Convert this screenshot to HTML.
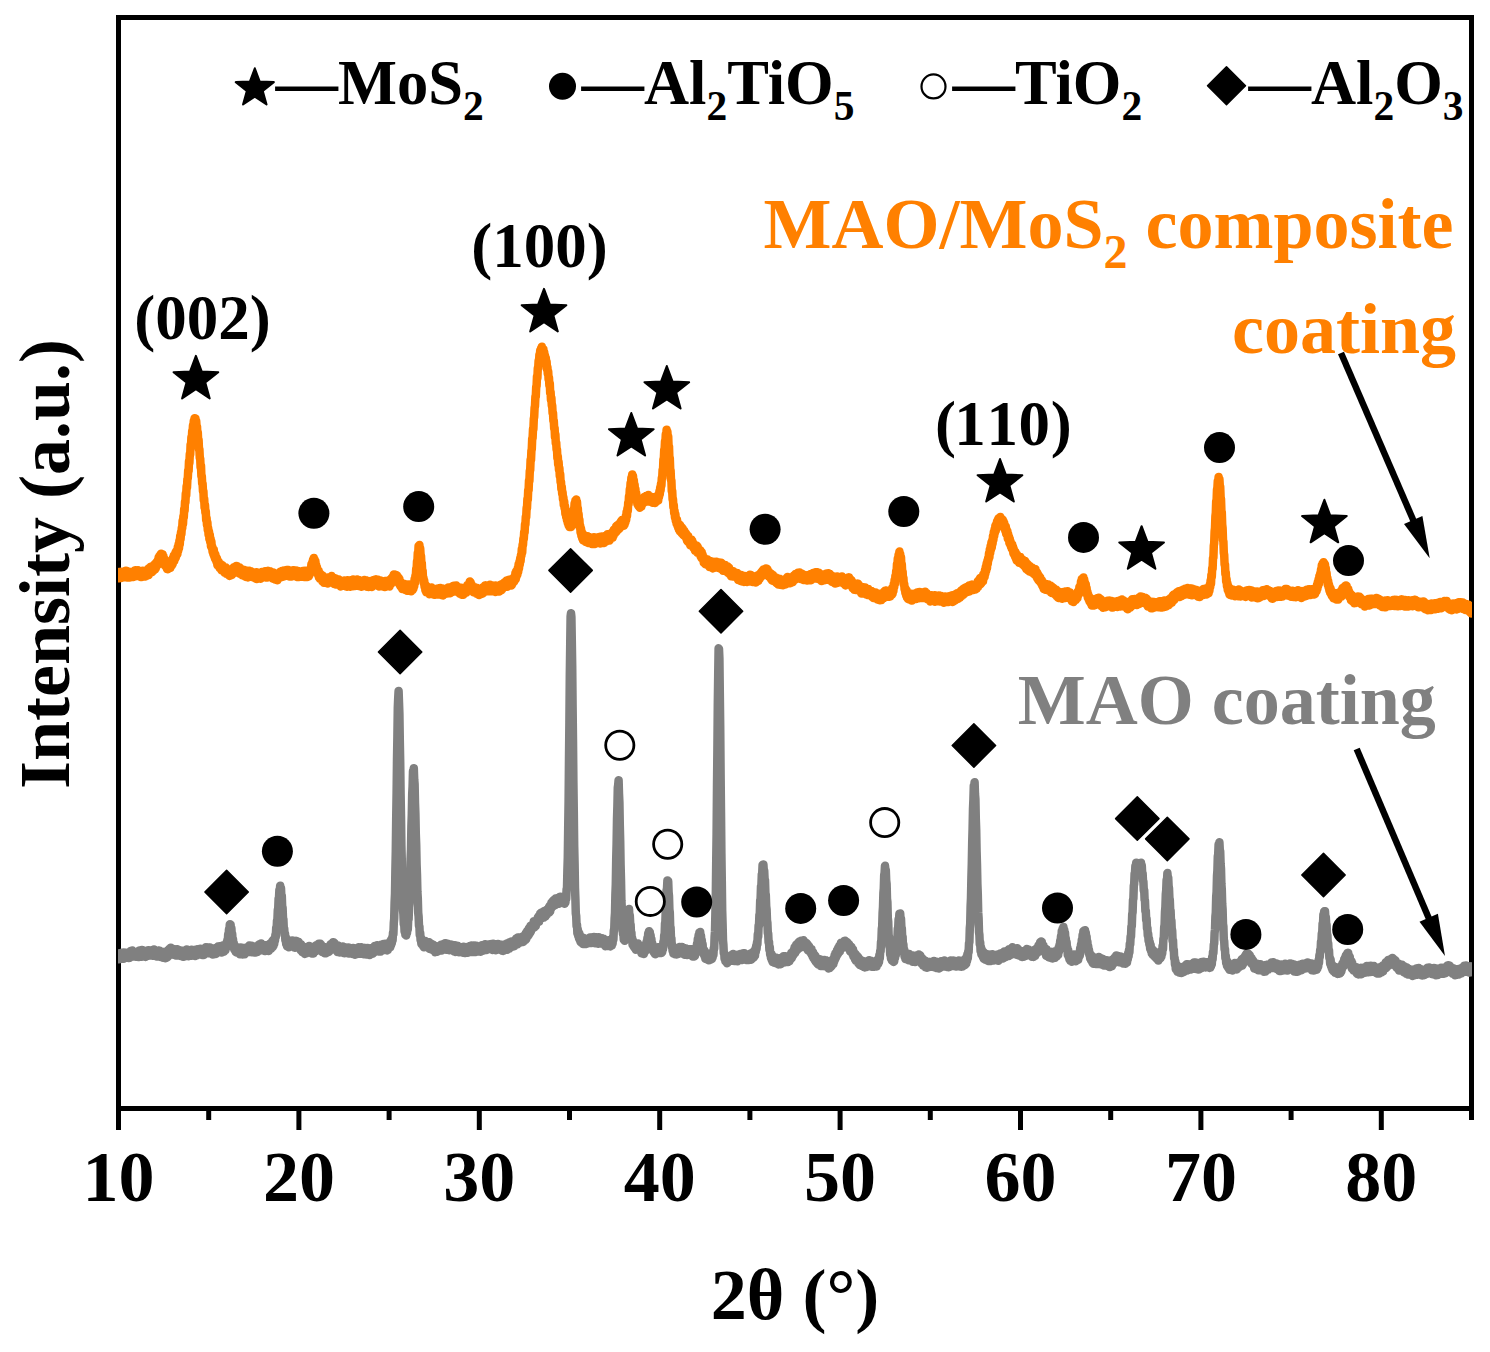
<!DOCTYPE html>
<html><head><meta charset="utf-8"><style>
html,body{margin:0;padding:0;background:#fff;}
svg{display:block;}
text{font-family:"Liberation Serif",serif;font-weight:bold;}
</style></head><body>
<svg width="1490" height="1352" viewBox="0 0 1490 1352">
<defs><clipPath id="pc"><rect x="118" y="0" width="1354" height="1352"/></clipPath></defs>
<rect width="1490" height="1352" fill="#fff"/>


<rect x="118.5" y="17.5" width="1353" height="1091" fill="none" stroke="#000" stroke-width="5"/>
<g stroke="#000" stroke-width="5"><line x1="118.50" y1="1108.5" x2="118.50" y2="1130.0"/><line x1="208.70" y1="1108.5" x2="208.70" y2="1120.0"/><line x1="298.90" y1="1108.5" x2="298.90" y2="1130.0"/><line x1="389.10" y1="1108.5" x2="389.10" y2="1120.0"/><line x1="479.30" y1="1108.5" x2="479.30" y2="1130.0"/><line x1="569.50" y1="1108.5" x2="569.50" y2="1120.0"/><line x1="659.70" y1="1108.5" x2="659.70" y2="1130.0"/><line x1="749.90" y1="1108.5" x2="749.90" y2="1120.0"/><line x1="840.10" y1="1108.5" x2="840.10" y2="1130.0"/><line x1="930.30" y1="1108.5" x2="930.30" y2="1120.0"/><line x1="1020.50" y1="1108.5" x2="1020.50" y2="1130.0"/><line x1="1110.70" y1="1108.5" x2="1110.70" y2="1120.0"/><line x1="1200.90" y1="1108.5" x2="1200.90" y2="1130.0"/><line x1="1291.10" y1="1108.5" x2="1291.10" y2="1120.0"/><line x1="1381.30" y1="1108.5" x2="1381.30" y2="1130.0"/><line x1="1471.50" y1="1108.5" x2="1471.50" y2="1120.0"/></g>
<g clip-path="url(#pc)"><path d="M118.2 578.1L118.6 572.1L119.0 578.3L119.4 573.4L119.8 577.4L120.2 572.1L120.6 576.7L121.0 572.0L121.4 578.0L121.8 572.4L122.2 576.7L122.6 572.4L123.0 576.3L123.4 571.7L123.8 576.5L124.2 571.4L124.6 577.3L125.0 571.0L125.4 576.8L125.8 570.8L126.2 576.3L126.6 572.7L127.0 577.4L127.4 573.2L127.8 576.5L128.2 572.5L128.6 577.4L129.0 571.7L129.4 577.6L129.8 572.3L130.2 577.1L130.6 572.6L131.0 576.0L131.4 572.4L131.8 577.0L132.2 572.2L132.6 576.2L133.0 572.4L133.4 576.9L133.8 572.0L134.2 575.8L134.6 570.5L135.0 576.1L135.4 570.5L135.8 576.3L136.2 570.6L136.6 575.2L137.0 570.9L137.4 575.9L137.8 570.2L138.2 575.6L138.6 570.8L139.0 575.2L139.4 571.4L139.8 575.9L140.2 572.0L140.6 576.9L141.0 571.6L141.4 577.1L141.8 571.1L142.2 576.3L142.6 570.8L143.0 576.2L143.4 571.5L143.8 575.6L144.2 571.2L144.6 575.4L145.0 571.4L145.4 576.4L145.8 571.1L146.2 575.7L146.6 570.7L147.0 575.8L147.4 569.7L147.8 574.0L148.2 568.8L148.6 574.9L149.0 568.1L149.4 573.5L149.8 568.8L150.2 572.1L150.6 566.7L151.0 572.2L151.4 567.5L151.8 572.3L152.2 566.2L152.6 571.3L153.0 566.3L153.4 570.6L153.8 566.0L154.2 569.3L154.6 564.2L155.0 569.4L155.4 564.0L155.8 568.1L156.2 562.4L156.6 566.2L157.0 561.6L157.4 564.6L157.8 560.3L158.2 564.4L158.6 557.4L159.0 561.6L159.4 555.9L159.8 560.9L160.2 554.9L160.6 559.3L161.0 553.7L161.4 558.6L161.8 554.2L162.2 560.1L162.6 554.6L163.0 560.4L163.4 556.2L163.8 561.9L164.2 558.4L164.6 565.3L165.0 561.3L165.4 566.2L165.8 561.5L166.2 566.7L166.6 562.9L167.0 569.0L167.4 563.7L167.8 569.2L168.2 564.4L168.6 568.1L169.0 563.7L169.4 567.5L169.8 563.0L170.2 568.0L170.6 561.5L171.0 565.6L171.4 560.8L171.8 565.5L172.2 559.1L172.6 564.1L173.0 557.6L173.4 561.9L173.8 555.5L174.2 561.0L174.6 554.7L175.0 559.0L175.4 552.8L175.8 557.5L176.2 551.1L176.6 555.2L177.0 550.2L177.4 553.9L177.8 546.9L178.2 550.8L178.6 544.2L179.0 548.3L179.4 540.7L179.8 544.2L180.2 536.0L180.6 539.1L181.0 532.2L181.4 533.9L181.8 527.7L182.2 528.5L182.6 520.6L183.0 524.0L183.4 516.1L183.8 517.4L184.2 509.0L184.6 510.6L185.0 501.6L185.4 502.7L185.8 493.5L186.2 495.3L186.6 486.2L187.0 487.6L187.4 479.0L187.8 478.4L188.2 470.3L188.6 471.4L189.0 461.2L189.4 462.9L189.8 454.0L190.2 454.8L190.6 444.5L191.0 446.7L191.4 437.1L191.8 439.3L192.2 431.0L192.6 431.2L193.0 425.3L193.4 426.6L193.8 420.8L194.2 423.4L194.6 418.2L195.0 422.2L195.4 418.4L195.8 423.9L196.2 420.9L196.6 427.4L197.0 426.3L197.4 434.8L197.8 432.4L198.2 441.7L198.6 439.9L199.0 449.6L199.4 449.3L199.8 458.2L200.2 458.4L200.6 467.5L201.0 465.6L201.4 476.4L201.8 475.9L202.2 483.9L202.6 483.7L203.0 491.6L203.4 491.0L203.8 500.5L204.2 498.9L204.6 507.7L205.0 504.9L205.4 512.9L205.8 511.3L206.2 520.4L206.6 518.1L207.0 525.3L207.4 522.5L207.8 530.3L208.2 528.2L208.6 534.9L209.0 531.5L209.4 539.3L209.8 535.1L210.2 542.1L210.6 538.8L211.0 546.5L211.4 541.7L211.8 548.3L212.2 546.3L212.6 552.0L213.0 548.6L213.4 554.4L213.8 549.7L214.2 556.4L214.6 553.3L215.0 558.8L215.4 554.7L215.8 560.2L216.2 557.2L216.6 562.2L217.0 558.5L217.4 565.2L217.8 560.7L218.2 565.9L218.6 561.8L219.0 566.9L219.4 563.6L219.8 568.3L220.2 564.2L220.6 568.7L221.0 564.4L221.4 570.3L221.8 565.8L222.2 569.8L222.6 565.4L223.0 570.3L223.4 566.9L223.8 570.7L224.2 567.6L224.6 572.8L225.0 567.9L225.4 572.4L225.8 567.6L226.2 573.7L226.6 569.6L227.0 574.1L227.4 568.9L227.8 574.6L228.2 569.8L228.6 574.5L229.0 570.0L229.4 575.9L229.8 569.8L230.2 575.6L230.6 570.4L231.0 574.1L231.4 569.7L231.8 574.9L232.2 569.7L232.6 573.3L233.0 568.4L233.4 573.6L233.8 567.2L234.2 571.9L234.6 568.1L235.0 572.8L235.4 566.9L235.8 572.4L236.2 566.0L236.6 572.6L237.0 566.2L237.4 572.4L237.8 567.2L238.2 572.4L238.6 568.0L239.0 573.1L239.4 567.5L239.8 573.7L240.2 568.9L240.6 573.9L241.0 569.7L241.4 573.8L241.8 569.4L242.2 575.2L242.6 570.5L243.0 575.4L243.4 570.0L243.8 575.2L244.2 569.9L244.6 576.4L245.0 571.0L245.4 575.2L245.8 570.6L246.2 577.1L246.6 572.0L247.0 576.8L247.4 571.0L247.8 577.4L248.2 572.4L248.6 575.8L249.0 570.7L249.4 575.7L249.8 572.0L250.2 576.4L250.6 571.3L251.0 576.6L251.4 571.8L251.8 577.1L252.2 572.0L252.6 577.1L253.0 572.7L253.4 577.0L253.8 573.2L254.2 577.1L254.6 573.1L255.0 578.2L255.4 573.1L255.8 577.3L256.2 572.3L256.6 579.0L257.0 572.6L257.4 577.9L257.8 573.7L258.2 577.9L258.6 574.3L259.0 577.6L259.4 573.5L259.8 577.7L260.2 573.9L260.6 578.8L261.0 573.0L261.4 577.0L261.8 572.1L262.2 576.7L262.6 572.0L263.0 576.4L263.4 571.8L263.8 576.9L264.2 571.7L264.6 576.5L265.0 571.2L265.4 577.4L265.8 572.4L266.2 576.0L266.6 572.5L267.0 577.6L267.4 570.9L267.8 576.2L268.2 570.9L268.6 576.2L269.0 571.9L269.4 576.9L269.8 571.2L270.2 576.1L270.6 572.4L271.0 577.3L271.4 573.1L271.8 576.9L272.2 572.7L272.6 578.5L273.0 572.6L273.4 578.9L273.8 573.1L274.2 579.1L274.6 573.4L275.0 579.5L275.4 573.9L275.8 579.1L276.2 575.2L276.6 580.1L277.0 575.3L277.4 580.3L277.8 574.3L278.2 578.9L278.6 573.2L279.0 578.0L279.4 573.3L279.8 577.1L280.2 571.7L280.6 577.4L281.0 571.4L281.4 576.2L281.8 570.9L282.2 576.6L282.6 570.9L283.0 576.8L283.4 571.0L283.8 575.6L284.2 570.4L284.6 576.2L285.0 570.9L285.4 575.8L285.8 571.1L286.2 575.6L286.6 570.1L287.0 574.8L287.4 570.3L287.8 574.9L288.2 570.1L288.6 575.9L289.0 571.2L289.4 576.4L289.8 571.0L290.2 576.4L290.6 571.8L291.0 576.0L291.4 570.8L291.8 576.5L292.2 571.6L292.6 575.5L293.0 570.3L293.4 575.6L293.8 571.4L294.2 575.8L294.6 571.3L295.0 575.3L295.4 570.4L295.8 575.6L296.2 571.5L296.6 576.9L297.0 571.2L297.4 576.6L297.8 571.0L298.2 576.4L298.6 571.3L299.0 577.0L299.4 571.2L299.8 576.7L300.2 571.6L300.6 576.5L301.0 571.6L301.4 576.8L301.8 571.6L302.2 576.2L302.6 570.9L303.0 576.3L303.4 571.6L303.8 576.9L304.2 571.6L304.6 576.9L305.0 570.8L305.4 576.2L305.8 571.0L306.2 575.5L306.6 571.7L307.0 577.1L307.4 571.4L307.8 576.5L308.2 571.1L308.6 576.5L309.0 570.7L309.4 575.1L309.8 570.3L310.2 573.3L310.6 568.1L311.0 571.3L311.4 564.2L311.8 568.4L312.2 562.4L312.6 565.7L313.0 559.8L313.4 564.9L313.8 558.0L314.2 563.4L314.6 559.7L315.0 565.8L315.4 561.3L315.8 568.0L316.2 565.0L316.6 571.3L317.0 567.5L317.4 573.4L317.8 570.2L318.2 575.4L318.6 570.8L319.0 577.7L319.4 572.8L319.8 578.7L320.2 573.9L320.6 578.9L321.0 574.6L321.4 579.5L321.8 575.8L322.2 581.2L322.6 575.8L323.0 580.7L323.4 576.5L323.8 582.7L324.2 577.5L324.6 581.7L325.0 577.5L325.4 582.4L325.8 577.8L326.2 582.9L326.6 578.1L327.0 582.9L327.4 578.6L327.8 583.5L328.2 578.2L328.6 582.7L329.0 577.3L329.4 582.4L329.8 577.9L330.2 581.7L330.6 577.8L331.0 581.6L331.4 576.1L331.8 581.9L332.2 577.3L332.6 581.2L333.0 577.5L333.4 583.0L333.8 577.9L334.2 584.0L334.6 578.3L335.0 584.0L335.4 578.6L335.8 584.6L336.2 579.6L336.6 583.8L337.0 579.5L337.4 584.4L337.8 580.2L338.2 584.5L338.6 579.6L339.0 584.3L339.4 580.9L339.8 584.7L340.2 580.9L340.6 586.5L341.0 581.6L341.4 585.1L341.8 581.5L342.2 585.7L342.6 581.8L343.0 585.7L343.4 581.6L343.8 585.5L344.2 580.5L344.6 585.4L345.0 580.9L345.4 585.9L345.8 581.3L346.2 586.6L346.6 581.7L347.0 586.8L347.4 580.3L347.8 586.3L348.2 581.9L348.6 586.3L349.0 580.8L349.4 586.4L349.8 581.5L350.2 586.7L350.6 580.2L351.0 585.1L351.4 581.2L351.8 584.8L352.2 580.0L352.6 586.3L353.0 579.6L353.4 585.6L353.8 580.0L354.2 585.5L354.6 580.1L355.0 585.9L355.4 579.9L355.8 584.6L356.2 579.9L356.6 584.0L357.0 579.6L357.4 585.3L357.8 580.3L358.2 585.9L358.6 580.0L359.0 585.2L359.4 581.6L359.8 585.2L360.2 581.6L360.6 585.7L361.0 581.2L361.4 586.8L361.8 581.4L362.2 586.6L362.6 580.4L363.0 586.2L363.4 580.7L363.8 584.4L364.2 579.9L364.6 584.9L365.0 581.1L365.4 586.0L365.8 580.3L366.2 585.2L366.6 581.3L367.0 586.8L367.4 581.6L367.8 586.6L368.2 582.1L368.6 587.0L369.0 582.3L369.4 586.6L369.8 582.6L370.2 586.8L370.6 581.1L371.0 585.9L371.4 582.1L371.8 587.0L372.2 581.3L372.6 585.9L373.0 580.8L373.4 585.7L373.8 579.9L374.2 584.9L374.6 579.7L375.0 585.2L375.4 579.4L375.8 584.5L376.2 579.5L376.6 585.3L377.0 580.4L377.4 584.4L377.8 579.7L378.2 586.1L378.6 581.5L379.0 586.4L379.4 581.6L379.8 586.1L380.2 580.6L380.6 586.2L381.0 581.8L381.4 586.0L381.8 582.3L382.2 585.9L382.6 582.0L383.0 586.0L383.4 582.5L383.8 586.6L384.2 582.3L384.6 587.1L385.0 581.0L385.4 586.2L385.8 581.5L386.2 586.6L386.6 582.4L387.0 585.8L387.4 580.8L387.8 586.3L388.2 580.8L388.6 585.4L389.0 580.9L389.4 586.4L389.8 579.8L390.2 584.2L390.6 579.7L391.0 583.9L391.4 578.2L391.8 582.2L392.2 577.9L392.6 582.3L393.0 576.3L393.4 580.5L393.8 574.4L394.2 579.5L394.6 575.5L395.0 579.3L395.4 575.3L395.8 578.9L396.2 574.9L396.6 581.2L397.0 575.7L397.4 581.6L397.8 577.3L398.2 582.6L398.6 577.7L399.0 583.9L399.4 578.9L399.8 585.2L400.2 581.5L400.6 586.6L401.0 582.2L401.4 587.0L401.8 582.9L402.2 589.0L402.6 584.5L403.0 589.1L403.4 583.8L403.8 589.1L404.2 584.9L404.6 589.3L405.0 584.6L405.4 590.0L405.8 584.7L406.2 589.1L406.6 584.4L407.0 590.8L407.4 585.9L407.8 589.6L408.2 585.8L408.6 590.8L409.0 584.5L409.4 589.4L409.8 585.7L410.2 589.8L410.6 585.6L411.0 591.3L411.4 586.4L411.8 589.8L412.2 585.4L412.6 590.0L413.0 584.1L413.4 588.7L413.8 583.6L414.2 586.3L414.6 579.0L415.0 583.1L415.4 575.7L415.8 577.4L416.2 568.7L416.6 569.9L417.0 561.2L417.4 561.7L417.8 552.8L418.2 553.6L418.6 545.8L419.0 549.6L419.4 545.1L419.8 549.9L420.2 548.4L420.6 555.3L421.0 555.6L421.4 563.3L421.8 563.1L422.2 571.6L422.6 570.3L423.0 578.2L423.4 577.3L423.8 583.5L424.2 580.4L424.6 587.0L425.0 584.0L425.4 590.4L425.8 586.0L426.2 592.2L426.6 586.3L427.0 592.1L427.4 587.5L427.8 592.6L428.2 589.0L428.6 593.2L429.0 588.3L429.4 594.2L429.8 589.1L430.2 593.7L430.6 588.4L431.0 592.5L431.4 587.4L431.8 593.7L432.2 589.2L432.6 594.3L433.0 589.5L433.4 593.0L433.8 589.3L434.2 594.8L434.6 590.0L435.0 594.8L435.4 588.9L435.8 593.2L436.2 588.9L436.6 593.8L437.0 588.8L437.4 594.2L437.8 588.4L438.2 594.5L438.6 589.2L439.0 594.1L439.4 588.8L439.8 594.1L440.2 588.1L440.6 594.8L441.0 589.5L441.4 594.1L441.8 588.6L442.2 595.3L442.6 589.9L443.0 595.4L443.4 589.9L443.8 594.3L444.2 589.0L444.6 594.2L445.0 589.2L445.4 593.6L445.8 588.8L446.2 592.8L446.6 589.2L447.0 593.6L447.4 588.0L447.8 593.2L448.2 587.4L448.6 592.3L449.0 588.4L449.4 592.4L449.8 588.2L450.2 593.2L450.6 587.9L451.0 592.1L451.4 587.1L451.8 591.5L452.2 587.7L452.6 592.0L453.0 585.9L453.4 590.7L453.8 585.7L454.2 589.9L454.6 585.9L455.0 590.7L455.4 586.1L455.8 590.4L456.2 585.6L456.6 591.1L457.0 586.8L457.4 591.7L457.8 587.4L458.2 592.6L458.6 587.6L459.0 591.8L459.4 588.2L459.8 593.7L460.2 588.6L460.6 593.6L461.0 587.8L461.4 594.7L461.8 590.0L462.2 594.3L462.6 589.2L463.0 594.8L463.4 589.9L463.8 594.1L464.2 590.4L464.6 593.4L465.0 589.0L465.4 592.9L465.8 588.9L466.2 592.5L466.6 588.0L467.0 590.5L467.4 584.9L467.8 589.7L468.2 584.6L468.6 588.7L469.0 583.7L469.4 586.9L469.8 581.4L470.2 588.0L470.6 582.4L471.0 587.3L471.4 584.1L471.8 588.5L472.2 585.7L472.6 589.9L473.0 587.2L473.4 592.2L473.8 588.2L474.2 592.0L474.6 587.2L475.0 592.7L475.4 588.5L475.8 592.4L476.2 587.8L476.6 593.7L477.0 588.4L477.4 593.8L477.8 589.6L478.2 593.5L478.6 589.0L479.0 595.1L479.4 588.8L479.8 594.6L480.2 589.3L480.6 593.3L481.0 588.4L481.4 593.0L481.8 589.4L482.2 593.7L482.6 587.5L483.0 593.3L483.4 587.6L483.8 591.5L484.2 587.7L484.6 592.1L485.0 585.4L485.4 590.6L485.8 585.4L486.2 590.8L486.6 586.4L487.0 591.0L487.4 587.0L487.8 590.9L488.2 586.6L488.6 591.3L489.0 585.8L489.4 591.3L489.8 584.8L490.2 590.0L490.6 585.7L491.0 591.0L491.4 585.2L491.8 589.5L492.2 586.2L492.6 591.3L493.0 585.4L493.4 589.8L493.8 585.8L494.2 590.9L494.6 586.2L495.0 591.9L495.4 585.4L495.8 590.6L496.2 587.0L496.6 591.2L497.0 585.8L497.4 591.5L497.8 585.9L498.2 591.3L498.6 586.7L499.0 591.6L499.4 586.9L499.8 591.2L500.2 586.3L500.6 590.4L501.0 584.4L501.4 590.1L501.8 585.6L502.2 589.2L502.6 583.8L503.0 587.8L503.4 583.8L503.8 587.0L504.2 582.6L504.6 587.0L505.0 582.0L505.4 586.3L505.8 581.3L506.2 585.7L506.6 580.4L507.0 586.8L507.4 580.9L507.8 585.6L508.2 579.9L508.6 585.0L509.0 579.8L509.4 584.8L509.8 579.8L510.2 584.7L510.6 579.8L511.0 585.6L511.4 580.5L511.8 584.9L512.2 579.0L512.6 583.4L513.0 578.5L513.4 581.8L513.8 577.5L514.2 581.5L514.6 576.3L515.0 580.0L515.4 573.0L515.8 578.7L516.2 571.1L516.6 576.3L517.0 570.3L517.4 574.4L517.8 567.9L518.2 571.8L518.6 564.1L519.0 568.5L519.4 561.8L519.8 564.5L520.2 558.3L520.6 560.9L521.0 554.9L521.4 556.1L521.8 548.9L522.2 552.5L522.6 544.7L523.0 545.1L523.4 538.4L523.8 538.9L524.2 531.8L524.6 532.8L525.0 524.1L525.4 524.9L525.8 516.6L526.2 517.2L526.6 508.1L527.0 508.1L527.4 499.0L527.8 500.0L528.2 490.2L528.6 490.3L529.0 480.5L529.4 481.0L529.8 470.6L530.2 470.3L530.6 459.6L531.0 460.4L531.4 450.8L531.8 449.0L532.2 438.5L532.6 438.2L533.0 429.1L533.4 429.1L533.8 418.8L534.2 416.8L534.6 407.7L535.0 406.0L535.4 396.7L535.8 396.6L536.2 386.8L536.6 385.8L537.0 376.3L537.4 377.9L537.8 368.1L538.2 368.5L538.6 360.6L539.0 362.6L539.4 354.7L539.8 357.7L540.2 350.4L540.6 353.7L541.0 348.5L541.4 352.3L541.8 346.7L542.2 352.8L542.6 348.4L543.0 354.6L543.4 349.2L543.8 355.5L544.2 352.1L544.6 358.7L545.0 355.4L545.4 361.7L545.8 357.9L546.2 365.2L546.6 361.7L547.0 369.5L547.4 367.1L547.8 374.1L548.2 371.4L548.6 379.6L549.0 377.7L549.4 385.9L549.8 383.5L550.2 393.4L550.6 392.0L551.0 400.4L551.4 397.9L551.8 405.9L552.2 405.4L552.6 413.3L553.0 412.8L553.4 421.0L553.8 420.7L554.2 428.8L554.6 427.8L555.0 437.2L555.4 434.5L555.8 443.5L556.2 442.2L556.6 449.8L557.0 449.4L557.4 458.3L557.8 456.5L558.2 464.7L558.6 462.0L559.0 470.0L559.4 468.2L559.8 476.4L560.2 474.2L560.6 482.2L561.0 481.8L561.4 489.4L561.8 487.0L562.2 494.0L562.6 492.4L563.0 499.5L563.4 497.4L563.8 505.2L564.2 501.5L564.6 508.4L565.0 506.2L565.4 514.1L565.8 510.2L566.2 517.3L566.6 514.2L567.0 520.6L567.4 516.2L567.8 523.3L568.2 518.3L568.6 525.5L569.0 521.7L569.4 526.9L569.8 522.7L570.2 526.8L570.6 522.6L571.0 527.0L571.4 520.9L571.8 525.7L572.2 519.3L572.6 520.8L573.0 514.4L573.4 517.1L573.8 508.9L574.2 511.2L574.6 503.3L575.0 506.9L575.4 500.5L575.8 503.5L576.2 499.5L576.6 506.1L577.0 502.1L577.4 508.9L577.8 508.0L578.2 515.8L578.6 514.2L579.0 522.6L579.4 519.7L579.8 527.8L580.2 525.7L580.6 532.7L581.0 528.6L581.4 536.0L581.8 532.0L582.2 538.4L582.6 533.8L583.0 540.2L583.4 535.4L583.8 539.8L584.2 535.3L584.6 540.8L585.0 535.9L585.4 541.9L585.8 536.9L586.2 541.1L586.6 536.5L587.0 541.2L587.4 536.3L587.8 542.9L588.2 537.8L588.6 541.8L589.0 537.1L589.4 542.9L589.8 538.9L590.2 543.2L590.6 538.9L591.0 543.2L591.4 538.2L591.8 544.1L592.2 537.8L592.6 542.6L593.0 538.2L593.4 543.1L593.8 537.2L594.2 542.3L594.6 538.2L595.0 544.0L595.4 538.5L595.8 542.9L596.2 538.3L596.6 543.0L597.0 537.6L597.4 542.5L597.8 538.8L598.2 542.3L598.6 537.6L599.0 542.5L599.4 537.1L599.8 543.4L600.2 536.8L600.6 542.0L601.0 538.4L601.4 542.1L601.8 536.5L602.2 542.7L602.6 538.1L603.0 542.6L603.4 536.5L603.8 543.0L604.2 536.7L604.6 542.6L605.0 536.1L605.4 541.2L605.8 537.0L606.2 541.3L606.6 536.3L607.0 540.1L607.4 534.2L607.8 540.0L608.2 534.8L608.6 540.5L609.0 535.1L609.4 540.6L609.8 534.0L610.2 539.3L610.6 534.8L611.0 538.5L611.4 533.0L611.8 537.7L612.2 533.7L612.6 537.8L613.0 531.3L613.4 536.0L613.8 529.6L614.2 533.5L614.6 529.6L615.0 533.2L615.4 528.5L615.8 532.1L616.2 526.2L616.6 531.4L617.0 525.4L617.4 529.2L617.8 525.1L618.2 529.8L618.6 524.3L619.0 528.1L619.4 523.5L619.8 528.1L620.2 522.6L620.6 526.4L621.0 521.3L621.4 526.5L621.8 520.1L622.2 526.1L622.6 520.9L623.0 524.6L623.4 519.8L623.8 525.7L624.2 520.4L624.6 524.4L625.0 518.8L625.4 522.1L625.8 516.0L626.2 519.7L626.6 511.8L627.0 515.9L627.4 508.4L627.8 510.8L628.2 502.6L628.6 504.0L629.0 496.1L629.4 497.2L629.8 489.1L630.2 489.7L630.6 482.8L631.0 484.2L631.4 477.6L631.8 481.4L632.2 474.5L632.6 480.0L633.0 476.0L633.4 483.5L633.8 480.1L634.2 487.2L634.6 484.8L635.0 492.5L635.4 488.9L635.8 496.3L636.2 493.3L636.6 501.3L637.0 497.2L637.4 504.3L637.8 499.6L638.2 505.8L638.6 501.5L639.0 506.7L639.4 502.4L639.8 507.7L640.2 502.8L640.6 506.0L641.0 501.0L641.4 506.6L641.8 500.2L642.2 504.5L642.6 499.1L643.0 502.9L643.4 497.9L643.8 502.8L644.2 497.0L644.6 501.7L645.0 497.0L645.4 501.6L645.8 496.1L646.2 501.2L646.6 496.0L647.0 499.8L647.4 495.6L647.8 500.9L648.2 495.0L648.6 501.5L649.0 496.8L649.4 501.6L649.8 496.7L650.2 501.7L650.6 496.8L651.0 501.4L651.4 497.0L651.8 502.2L652.2 497.0L652.6 502.8L653.0 497.5L653.4 502.7L653.8 497.8L654.2 502.8L654.6 497.9L655.0 502.9L655.4 497.8L655.8 501.7L656.2 497.3L656.6 501.4L657.0 496.8L657.4 500.2L657.8 495.2L658.2 500.4L658.6 494.2L659.0 497.0L659.4 491.3L659.8 494.3L660.2 487.4L660.6 490.2L661.0 483.7L661.4 485.5L661.8 477.9L662.2 478.1L662.6 469.8L663.0 470.3L663.4 459.4L663.8 460.1L664.2 450.0L664.6 450.0L665.0 441.1L665.4 442.0L665.8 434.2L666.2 437.0L666.6 429.7L667.0 434.4L667.4 431.7L667.8 439.3L668.2 436.4L668.6 446.9L669.0 446.2L669.4 458.3L669.8 457.8L670.2 469.3L670.6 470.4L671.0 480.1L671.4 480.5L671.8 491.4L672.2 490.7L672.6 499.3L673.0 499.3L673.4 507.2L673.8 505.2L674.2 513.4L674.6 510.9L675.0 517.8L675.4 514.2L675.8 521.1L676.2 518.4L676.6 523.9L677.0 519.8L677.4 525.7L677.8 523.0L678.2 527.9L678.6 524.3L679.0 529.9L679.4 524.4L679.8 531.3L680.2 525.4L680.6 531.7L681.0 527.6L681.4 533.0L681.8 527.5L682.2 533.7L682.6 528.4L683.0 534.8L683.4 530.1L683.8 535.5L684.2 530.7L684.6 535.9L685.0 532.2L685.4 536.8L685.8 533.2L686.2 538.5L686.6 534.6L687.0 540.8L687.4 535.5L687.8 541.8L688.2 536.2L688.6 542.1L689.0 538.1L689.4 542.8L689.8 539.2L690.2 545.2L690.6 540.5L691.0 545.5L691.4 539.8L691.8 545.9L692.2 540.8L692.6 546.7L693.0 542.7L693.4 547.9L693.8 544.1L694.2 548.6L694.6 544.9L695.0 550.8L695.4 545.7L695.8 550.3L696.2 545.4L696.6 550.8L697.0 546.0L697.4 552.8L697.8 547.3L698.2 552.7L698.6 548.9L699.0 552.9L699.4 549.9L699.8 554.3L700.2 550.3L700.6 556.5L701.0 551.4L701.4 558.1L701.8 552.6L702.2 558.1L702.6 554.6L703.0 559.9L703.4 557.2L703.8 562.9L704.2 558.1L704.6 562.7L705.0 559.5L705.4 564.3L705.8 559.4L706.2 563.6L706.6 559.4L707.0 564.4L707.4 559.6L707.8 565.2L708.2 560.4L708.6 565.6L709.0 560.7L709.4 567.1L709.8 561.0L710.2 566.0L710.6 562.1L711.0 566.8L711.4 563.2L711.8 566.9L712.2 563.1L712.6 568.4L713.0 562.1L713.4 568.1L713.8 562.0L714.2 566.9L714.6 562.5L715.0 567.1L715.4 562.6L715.8 567.0L716.2 561.8L716.6 566.5L717.0 562.9L717.4 567.4L717.8 562.3L718.2 567.9L718.6 562.4L719.0 567.1L719.4 563.6L719.8 567.7L720.2 563.7L720.6 568.8L721.0 562.7L721.4 569.2L721.8 565.0L722.2 569.0L722.6 564.1L723.0 570.7L723.4 565.0L723.8 570.0L724.2 565.8L724.6 570.8L725.0 565.1L725.4 570.5L725.8 566.5L726.2 570.1L726.6 566.9L727.0 572.0L727.4 566.4L727.8 572.8L728.2 568.2L728.6 572.5L729.0 567.8L729.4 574.1L729.8 570.3L730.2 574.8L730.6 570.3L731.0 576.3L731.4 571.5L731.8 576.0L732.2 570.9L732.6 576.6L733.0 571.3L733.4 576.6L733.8 572.3L734.2 575.9L734.6 572.4L735.0 576.0L735.4 572.5L735.8 577.0L736.2 573.0L736.6 577.8L737.0 572.9L737.4 578.0L737.8 575.0L738.2 580.1L738.6 574.7L739.0 579.7L739.4 575.5L739.8 580.2L740.2 575.8L740.6 581.0L741.0 574.9L741.4 580.2L741.8 576.7L742.2 581.6L742.6 576.5L743.0 581.4L743.4 575.7L743.8 581.9L744.2 575.9L744.6 581.5L745.0 576.1L745.4 581.6L745.8 577.2L746.2 581.6L746.6 577.0L747.0 582.0L747.4 575.9L747.8 580.6L748.2 576.8L748.6 580.7L749.0 575.9L749.4 581.5L749.8 574.8L750.2 581.3L750.6 575.1L751.0 580.9L751.4 576.3L751.8 580.7L752.2 577.2L752.6 582.0L753.0 577.1L753.4 581.0L753.8 577.3L754.2 581.6L754.6 576.5L755.0 580.9L755.4 577.3L755.8 582.4L756.2 575.9L756.6 581.6L757.0 576.2L757.4 580.5L757.8 575.2L758.2 581.0L758.6 575.2L759.0 579.1L759.4 574.9L759.8 578.6L760.2 573.6L760.6 576.9L761.0 572.4L761.4 576.5L761.8 571.6L762.2 575.4L762.6 570.6L763.0 574.6L763.4 569.4L763.8 574.3L764.2 569.7L764.6 574.5L765.0 568.9L765.4 573.8L765.8 568.6L766.2 574.5L766.6 568.7L767.0 575.1L767.4 569.6L767.8 575.6L768.2 571.3L768.6 576.4L769.0 572.0L769.4 576.5L769.8 573.2L770.2 577.7L770.6 574.4L771.0 579.2L771.4 573.9L771.8 580.2L772.2 575.9L772.6 580.7L773.0 575.2L773.4 580.1L773.8 576.9L774.2 581.1L774.6 577.0L775.0 581.5L775.4 577.4L775.8 582.4L776.2 577.7L776.6 583.3L777.0 578.2L777.4 583.2L777.8 578.5L778.2 584.5L778.6 578.9L779.0 583.5L779.4 578.7L779.8 584.7L780.2 580.2L780.6 584.7L781.0 579.9L781.4 584.9L781.8 580.5L782.2 584.5L782.6 580.2L783.0 585.3L783.4 579.8L783.8 583.6L784.2 579.4L784.6 583.5L785.0 579.8L785.4 584.5L785.8 578.8L786.2 583.2L786.6 578.3L787.0 582.0L787.4 577.1L787.8 583.5L788.2 578.3L788.6 582.5L789.0 578.0L789.4 582.0L789.8 577.4L790.2 583.2L790.6 577.2L791.0 582.8L791.4 578.4L791.8 581.7L792.2 577.1L792.6 582.3L793.0 576.9L793.4 581.3L793.8 575.5L794.2 579.9L794.6 576.0L795.0 579.7L795.4 574.0L795.8 579.0L796.2 575.1L796.6 578.7L797.0 573.5L797.4 577.8L797.8 572.7L798.2 577.6L798.6 572.8L799.0 577.5L799.4 572.5L799.8 577.6L800.2 572.9L800.6 579.0L801.0 574.0L801.4 577.8L801.8 573.7L802.2 578.9L802.6 574.3L803.0 579.9L803.4 574.7L803.8 579.7L804.2 574.9L804.6 579.9L805.0 575.3L805.4 579.5L805.8 575.6L806.2 579.7L806.6 575.7L807.0 580.6L807.4 575.9L807.8 579.5L808.2 575.1L808.6 579.7L809.0 575.6L809.4 579.8L809.8 575.1L810.2 580.2L810.6 574.0L811.0 580.3L811.4 574.7L811.8 579.2L812.2 574.3L812.6 578.4L813.0 572.9L813.4 577.7L813.8 574.0L814.2 578.6L814.6 573.1L815.0 577.7L815.4 572.3L815.8 577.8L816.2 572.8L816.6 577.2L817.0 572.3L817.4 577.3L817.8 573.4L818.2 579.0L818.6 572.7L819.0 579.4L819.4 573.4L819.8 578.7L820.2 575.4L820.6 579.7L821.0 575.9L821.4 581.1L821.8 576.4L822.2 580.2L822.6 576.2L823.0 579.6L823.4 575.5L823.8 579.5L824.2 574.4L824.6 580.2L825.0 574.9L825.4 580.1L825.8 573.8L826.2 578.8L826.6 573.4L827.0 579.7L827.4 573.7L827.8 578.6L828.2 573.3L828.6 579.9L829.0 574.6L829.4 578.6L829.8 574.0L830.2 580.2L830.6 575.7L831.0 580.6L831.4 576.2L831.8 581.9L832.2 576.8L832.6 581.2L833.0 578.0L833.4 582.0L833.8 576.6L834.2 582.1L834.6 577.8L835.0 583.6L835.4 578.7L835.8 582.3L836.2 577.0L836.6 581.7L837.0 576.6L837.4 582.9L837.8 577.9L838.2 582.2L838.6 576.8L839.0 582.1L839.4 577.0L839.8 581.3L840.2 577.0L840.6 581.1L841.0 577.3L841.4 582.5L841.8 576.4L842.2 582.1L842.6 577.5L843.0 583.2L843.4 579.1L843.8 583.7L844.2 578.5L844.6 584.2L845.0 579.6L845.4 585.4L845.8 579.9L846.2 584.9L846.6 579.8L847.0 584.2L847.4 578.0L847.8 584.0L848.2 577.4L848.6 583.6L849.0 577.5L849.4 583.1L849.8 578.8L850.2 583.6L850.6 580.4L851.0 585.0L851.4 580.3L851.8 586.7L852.2 582.8L852.6 588.2L853.0 583.4L853.4 588.0L853.8 583.2L854.2 589.8L854.6 583.9L855.0 589.1L855.4 584.5L855.8 590.0L856.2 584.7L856.6 589.8L857.0 583.8L857.4 589.2L857.8 583.7L858.2 589.4L858.6 584.5L859.0 590.6L859.4 586.1L859.8 591.3L860.2 586.6L860.6 592.2L861.0 588.3L861.4 593.6L861.8 587.1L862.2 592.1L862.6 587.2L863.0 593.0L863.4 588.7L863.8 593.5L864.2 588.1L864.6 593.4L865.0 587.6L865.4 593.4L865.8 589.5L866.2 594.4L866.6 588.7L867.0 594.9L867.4 589.8L867.8 594.9L868.2 588.9L868.6 594.4L869.0 590.1L869.4 594.8L869.8 591.3L870.2 595.1L870.6 591.3L871.0 595.5L871.4 591.1L871.8 596.7L872.2 592.0L872.6 596.9L873.0 592.8L873.4 598.1L873.8 592.9L874.2 598.1L874.6 593.2L875.0 598.2L875.4 592.5L875.8 597.8L876.2 593.4L876.6 598.8L877.0 594.5L877.4 599.6L877.8 594.0L878.2 598.6L878.6 593.8L879.0 600.0L879.4 594.3L879.8 600.3L880.2 595.4L880.6 599.5L881.0 593.9L881.4 599.9L881.8 593.6L882.2 598.7L882.6 593.5L883.0 598.0L883.4 592.5L883.8 598.0L884.2 591.4L884.6 597.2L885.0 590.8L885.4 595.5L885.8 590.8L886.2 596.1L886.6 590.7L887.0 595.7L887.4 591.2L887.8 596.7L888.2 592.1L888.6 595.8L889.0 591.2L889.4 596.8L889.8 591.5L890.2 596.5L890.6 591.2L891.0 595.0L891.4 589.9L891.8 594.7L892.2 588.0L892.6 593.5L893.0 587.3L893.4 590.9L893.8 583.8L894.2 587.1L894.6 579.9L895.0 583.9L895.4 575.8L895.8 578.8L896.2 571.0L896.6 571.6L897.0 563.8L897.4 565.8L897.8 558.3L898.2 560.8L898.6 554.6L899.0 558.0L899.4 551.6L899.8 556.6L900.2 553.9L900.6 560.9L901.0 557.2L901.4 566.6L901.8 564.2L902.2 572.3L902.6 571.2L903.0 578.7L903.4 577.4L903.8 584.7L904.2 583.4L904.6 589.6L905.0 587.6L905.4 593.2L905.8 589.2L906.2 595.8L906.6 590.5L907.0 597.7L907.4 592.3L907.8 598.7L908.2 593.5L908.6 599.2L909.0 594.4L909.4 599.2L909.8 593.6L910.2 599.8L910.6 594.8L911.0 600.4L911.4 595.4L911.8 600.6L912.2 595.9L912.6 599.3L913.0 595.4L913.4 599.1L913.8 593.7L914.2 598.4L914.6 594.6L915.0 599.1L915.4 593.5L915.8 599.1L916.2 593.7L916.6 597.7L917.0 592.4L917.4 597.1L917.8 593.5L918.2 597.0L918.6 592.5L919.0 598.3L919.4 592.1L919.8 597.7L920.2 592.7L920.6 598.1L921.0 592.7L921.4 597.6L921.8 593.8L922.2 597.4L922.6 592.5L923.0 598.1L923.4 592.3L923.8 596.8L924.2 591.9L924.6 597.3L925.0 591.8L925.4 597.8L925.8 592.8L926.2 598.6L926.6 593.2L927.0 599.0L927.4 594.8L927.8 599.6L928.2 595.1L928.6 599.3L929.0 596.2L929.4 600.6L929.8 596.3L930.2 601.4L930.6 596.8L931.0 600.1L931.4 595.2L931.8 600.7L932.2 596.1L932.6 600.5L933.0 596.6L933.4 600.8L933.8 595.5L934.2 600.1L934.6 595.3L935.0 601.8L935.4 595.8L935.8 600.5L936.2 596.3L936.6 600.1L937.0 596.1L937.4 601.3L937.8 596.7L938.2 601.2L938.6 595.5L939.0 599.9L939.4 596.8L939.8 601.5L940.2 595.9L940.6 601.0L941.0 595.9L941.4 601.2L941.8 597.1L942.2 601.3L942.6 596.9L943.0 601.4L943.4 597.9L943.8 602.7L944.2 597.2L944.6 602.4L945.0 596.6L945.4 602.1L945.8 597.4L946.2 602.1L946.6 597.4L947.0 601.1L947.4 596.7L947.8 600.8L948.2 597.4L948.6 601.9L949.0 596.2L949.4 601.4L949.8 596.9L950.2 601.0L950.6 596.5L951.0 601.5L951.4 595.6L951.8 600.4L952.2 595.5L952.6 602.0L953.0 596.4L953.4 601.4L953.8 595.3L954.2 601.0L954.6 595.9L955.0 600.5L955.4 594.3L955.8 598.9L956.2 594.5L956.6 598.2L957.0 593.3L957.4 599.1L957.8 594.3L958.2 598.7L958.6 592.7L959.0 597.1L959.4 592.6L959.8 597.7L960.2 592.4L960.6 596.8L961.0 590.6L961.4 596.3L961.8 590.8L962.2 594.5L962.6 590.7L963.0 595.1L963.4 588.7L963.8 594.3L964.2 588.2L964.6 593.1L965.0 587.7L965.4 592.9L965.8 587.7L966.2 592.1L966.6 587.1L967.0 592.1L967.4 587.3L967.8 590.7L968.2 587.3L968.6 590.8L969.0 585.6L969.4 591.5L969.8 585.6L970.2 590.7L970.6 586.4L971.0 590.4L971.4 584.7L971.8 590.1L972.2 584.8L972.6 589.6L973.0 585.5L973.4 589.9L973.8 584.7L974.2 589.2L974.6 584.9L975.0 589.6L975.4 584.5L975.8 589.0L976.2 584.1L976.6 588.7L977.0 583.2L977.4 587.4L977.8 581.2L978.2 586.8L978.6 580.5L979.0 585.0L979.4 579.2L979.8 584.1L980.2 577.9L980.6 584.1L981.0 577.6L981.4 583.0L981.8 576.9L982.2 581.9L982.6 576.7L983.0 581.2L983.4 574.1L983.8 578.1L984.2 573.3L984.6 576.8L985.0 570.0L985.4 573.4L985.8 566.8L986.2 570.7L986.6 563.4L987.0 567.9L987.4 560.7L987.8 563.6L988.2 557.9L988.6 559.5L989.0 553.3L989.4 557.3L989.8 549.3L990.2 553.1L990.6 545.9L991.0 549.5L991.4 542.4L991.8 547.2L992.2 540.3L992.6 543.5L993.0 535.8L993.4 539.7L993.8 532.0L994.2 536.0L994.6 529.3L995.0 532.4L995.4 525.6L995.8 530.5L996.2 524.1L996.6 527.7L997.0 521.5L997.4 524.4L997.8 519.8L998.2 523.6L998.6 518.3L999.0 522.0L999.4 518.1L999.8 522.0L1000.2 517.0L1000.6 521.8L1001.0 518.2L1001.4 523.7L1001.8 520.0L1002.2 524.4L1002.6 519.7L1003.0 527.1L1003.4 521.3L1003.8 527.0L1004.2 523.0L1004.6 529.2L1005.0 525.9L1005.4 531.2L1005.8 526.5L1006.2 534.0L1006.6 529.7L1007.0 534.7L1007.4 531.1L1007.8 538.9L1008.2 534.2L1008.6 539.9L1009.0 536.6L1009.4 543.2L1009.8 539.1L1010.2 544.8L1010.6 541.7L1011.0 546.9L1011.4 544.2L1011.8 548.8L1012.2 544.5L1012.6 550.2L1013.0 546.7L1013.4 553.5L1013.8 549.1L1014.2 554.9L1014.6 551.2L1015.0 556.8L1015.4 552.0L1015.8 558.6L1016.2 554.1L1016.6 560.6L1017.0 554.7L1017.4 561.1L1017.8 556.2L1018.2 561.4L1018.6 556.4L1019.0 562.7L1019.4 557.0L1019.8 562.4L1020.2 557.1L1020.6 562.3L1021.0 558.2L1021.4 562.6L1021.8 559.1L1022.2 564.2L1022.6 559.8L1023.0 564.1L1023.4 560.3L1023.8 565.8L1024.2 561.4L1024.6 565.8L1025.0 561.0L1025.4 567.4L1025.8 562.3L1026.2 569.0L1026.6 564.6L1027.0 569.3L1027.4 564.1L1027.8 570.3L1028.2 564.9L1028.6 569.7L1029.0 566.7L1029.4 571.6L1029.8 566.2L1030.2 571.1L1030.6 567.7L1031.0 571.9L1031.4 567.8L1031.8 572.6L1032.2 567.7L1032.6 573.1L1033.0 568.6L1033.4 573.1L1033.8 569.2L1034.2 574.3L1034.6 569.1L1035.0 574.0L1035.4 569.2L1035.8 575.8L1036.2 571.4L1036.6 577.2L1037.0 572.5L1037.4 578.6L1037.8 573.9L1038.2 580.0L1038.6 575.6L1039.0 580.9L1039.4 576.6L1039.8 581.7L1040.2 577.4L1040.6 582.5L1041.0 579.7L1041.4 584.1L1041.8 580.2L1042.2 585.7L1042.6 581.9L1043.0 587.1L1043.4 583.5L1043.8 589.1L1044.2 583.7L1044.6 589.1L1045.0 583.7L1045.4 589.7L1045.8 584.7L1046.2 588.4L1046.6 584.4L1047.0 588.6L1047.4 585.3L1047.8 590.2L1048.2 584.4L1048.6 589.7L1049.0 585.9L1049.4 591.0L1049.8 585.9L1050.2 590.6L1050.6 585.7L1051.0 592.7L1051.4 586.4L1051.8 593.0L1052.2 587.5L1052.6 592.3L1053.0 587.7L1053.4 592.4L1053.8 588.2L1054.2 592.8L1054.6 589.9L1055.0 594.6L1055.4 589.9L1055.8 595.3L1056.2 589.8L1056.6 596.3L1057.0 590.9L1057.4 597.1L1057.8 591.5L1058.2 597.9L1058.6 591.7L1059.0 596.8L1059.4 593.3L1059.8 597.8L1060.2 593.6L1060.6 597.6L1061.0 592.6L1061.4 597.4L1061.8 593.9L1062.2 598.7L1062.6 593.7L1063.0 597.6L1063.4 592.1L1063.8 598.2L1064.2 592.8L1064.6 596.8L1065.0 592.8L1065.4 598.0L1065.8 591.5L1066.2 596.0L1066.6 591.4L1067.0 596.4L1067.4 591.3L1067.8 596.3L1068.2 592.5L1068.6 596.0L1069.0 592.7L1069.4 598.3L1069.8 592.4L1070.2 598.9L1070.6 593.7L1071.0 599.0L1071.4 595.4L1071.8 601.2L1072.2 595.0L1072.6 601.0L1073.0 595.8L1073.4 602.1L1073.8 595.4L1074.2 600.8L1074.6 595.8L1075.0 600.5L1075.4 595.5L1075.8 599.9L1076.2 595.0L1076.6 598.1L1077.0 593.0L1077.4 598.1L1077.8 591.4L1078.2 595.4L1078.6 590.6L1079.0 594.1L1079.4 587.0L1079.8 591.3L1080.2 585.6L1080.6 588.7L1081.0 581.3L1081.4 586.5L1081.8 578.9L1082.2 583.5L1082.6 578.5L1083.0 583.4L1083.4 577.4L1083.8 584.1L1084.2 579.6L1084.6 585.2L1085.0 582.6L1085.4 589.3L1085.8 584.5L1086.2 591.7L1086.6 587.9L1087.0 594.8L1087.4 591.6L1087.8 597.8L1088.2 594.4L1088.6 599.5L1089.0 596.4L1089.4 601.3L1089.8 597.6L1090.2 602.6L1090.6 598.5L1091.0 604.0L1091.4 600.2L1091.8 605.6L1092.2 601.3L1092.6 605.5L1093.0 600.5L1093.4 605.5L1093.8 599.6L1094.2 605.5L1094.6 600.5L1095.0 605.1L1095.4 599.2L1095.8 604.4L1096.2 599.6L1096.6 603.7L1097.0 598.3L1097.4 604.1L1097.8 597.9L1098.2 602.9L1098.6 597.8L1099.0 603.5L1099.4 598.3L1099.8 604.4L1100.2 599.4L1100.6 605.3L1101.0 599.4L1101.4 606.2L1101.8 601.4L1102.2 606.6L1102.6 602.6L1103.0 607.7L1103.4 601.7L1103.8 606.7L1104.2 601.8L1104.6 607.3L1105.0 602.6L1105.4 607.2L1105.8 601.2L1106.2 605.4L1106.6 601.6L1107.0 606.0L1107.4 600.7L1107.8 605.3L1108.2 600.9L1108.6 605.5L1109.0 600.7L1109.4 606.2L1109.8 600.7L1110.2 606.6L1110.6 601.9L1111.0 605.8L1111.4 601.1L1111.8 607.6L1112.2 601.6L1112.6 607.6L1113.0 601.5L1113.4 606.9L1113.8 601.9L1114.2 606.3L1114.6 601.7L1115.0 606.1L1115.4 601.8L1115.8 606.7L1116.2 602.6L1116.6 606.5L1117.0 602.2L1117.4 606.9L1117.8 601.1L1118.2 606.7L1118.6 601.2L1119.0 606.5L1119.4 601.7L1119.8 605.7L1120.2 600.2L1120.6 606.5L1121.0 601.2L1121.4 604.5L1121.8 599.6L1122.2 606.0L1122.6 600.2L1123.0 606.0L1123.4 600.5L1123.8 606.6L1124.2 601.6L1124.6 606.3L1125.0 601.5L1125.4 606.6L1125.8 602.1L1126.2 607.3L1126.6 602.7L1127.0 608.8L1127.4 603.5L1127.8 609.2L1128.2 602.9L1128.6 608.4L1129.0 603.6L1129.4 606.6L1129.8 601.6L1130.2 607.4L1130.6 601.0L1131.0 606.6L1131.4 601.3L1131.8 605.9L1132.2 599.2L1132.6 604.9L1133.0 599.6L1133.4 604.7L1133.8 599.8L1134.2 604.5L1134.6 598.9L1135.0 604.3L1135.4 599.9L1135.8 603.5L1136.2 600.1L1136.6 605.1L1137.0 600.0L1137.4 603.5L1137.8 599.6L1138.2 603.9L1138.6 598.4L1139.0 603.9L1139.4 597.2L1139.8 603.4L1140.2 596.6L1140.6 601.8L1141.0 597.5L1141.4 602.4L1141.8 597.0L1142.2 601.7L1142.6 597.0L1143.0 602.2L1143.4 597.4L1143.8 601.8L1144.2 597.8L1144.6 603.2L1145.0 597.7L1145.4 603.4L1145.8 599.0L1146.2 603.3L1146.6 598.8L1147.0 605.3L1147.4 599.9L1147.8 606.6L1148.2 601.0L1148.6 605.8L1149.0 601.6L1149.4 606.6L1149.8 602.2L1150.2 607.3L1150.6 602.4L1151.0 608.3L1151.4 602.1L1151.8 607.5L1152.2 602.1L1152.6 608.3L1153.0 602.2L1153.4 607.8L1153.8 602.0L1154.2 607.6L1154.6 603.4L1155.0 607.1L1155.4 602.2L1155.8 607.1L1156.2 602.4L1156.6 606.9L1157.0 602.7L1157.4 606.2L1157.8 602.8L1158.2 607.2L1158.6 602.3L1159.0 606.9L1159.4 601.2L1159.8 607.3L1160.2 601.5L1160.6 607.5L1161.0 601.2L1161.4 606.1L1161.8 602.1L1162.2 607.5L1162.6 601.7L1163.0 607.3L1163.4 602.1L1163.8 605.5L1164.2 600.5L1164.6 605.9L1165.0 601.1L1165.4 606.7L1165.8 601.3L1166.2 606.5L1166.6 600.7L1167.0 604.8L1167.4 600.6L1167.8 604.9L1168.2 599.8L1168.6 605.2L1169.0 600.2L1169.4 603.2L1169.8 599.6L1170.2 603.8L1170.6 597.9L1171.0 603.0L1171.4 597.5L1171.8 602.6L1172.2 597.9L1172.6 601.1L1173.0 595.3L1173.4 600.4L1173.8 594.5L1174.2 599.8L1174.6 594.9L1175.0 597.9L1175.4 594.0L1175.8 597.7L1176.2 592.9L1176.6 597.4L1177.0 592.3L1177.4 597.1L1177.8 593.0L1178.2 596.6L1178.6 591.3L1179.0 596.2L1179.4 591.7L1179.8 596.9L1180.2 591.5L1180.6 596.4L1181.0 591.8L1181.4 596.3L1181.8 590.3L1182.2 595.4L1182.6 591.3L1183.0 594.4L1183.4 589.4L1183.8 594.5L1184.2 590.5L1184.6 594.7L1185.0 588.7L1185.4 594.3L1185.8 589.7L1186.2 593.6L1186.6 589.2L1187.0 592.8L1187.4 587.9L1187.8 593.6L1188.2 589.5L1188.6 594.6L1189.0 588.2L1189.4 594.7L1189.8 589.8L1190.2 593.8L1190.6 589.4L1191.0 594.6L1191.4 588.8L1191.8 595.3L1192.2 588.8L1192.6 594.2L1193.0 589.4L1193.4 593.8L1193.8 589.6L1194.2 593.8L1194.6 590.5L1195.0 594.1L1195.4 590.4L1195.8 594.8L1196.2 590.0L1196.6 594.7L1197.0 591.5L1197.4 596.2L1197.8 590.9L1198.2 596.7L1198.6 591.1L1199.0 596.9L1199.4 591.6L1199.8 597.0L1200.2 592.3L1200.6 595.7L1201.0 590.6L1201.4 595.1L1201.8 590.4L1202.2 594.6L1202.6 589.9L1203.0 595.1L1203.4 589.0L1203.8 593.9L1204.2 589.4L1204.6 594.5L1205.0 588.7L1205.4 593.8L1205.8 588.4L1206.2 594.4L1206.6 588.2L1207.0 594.3L1207.4 588.2L1207.8 593.7L1208.2 587.9L1208.6 593.3L1209.0 587.7L1209.4 590.8L1209.8 584.4L1210.2 587.1L1210.6 580.5L1211.0 583.9L1211.4 574.8L1211.8 576.8L1212.2 568.1L1212.6 569.0L1213.0 558.1L1213.4 557.5L1213.8 545.6L1214.2 543.2L1214.6 531.6L1215.0 528.1L1215.4 516.2L1215.8 512.9L1216.2 500.8L1216.6 500.5L1217.0 489.5L1217.4 487.9L1217.8 480.8L1218.2 483.1L1218.6 477.0L1219.0 481.9L1219.4 478.9L1219.8 486.1L1220.2 486.7L1220.6 497.0L1221.0 499.0L1221.4 510.7L1221.8 512.3L1222.2 524.4L1222.6 528.0L1223.0 540.0L1223.4 541.5L1223.8 552.9L1224.2 554.8L1224.6 564.9L1225.0 564.2L1225.4 574.4L1225.8 572.6L1226.2 581.7L1226.6 579.2L1227.0 586.6L1227.4 583.3L1227.8 590.2L1228.2 586.1L1228.6 591.9L1229.0 588.6L1229.4 594.5L1229.8 589.4L1230.2 595.1L1230.6 588.9L1231.0 594.9L1231.4 590.6L1231.8 595.4L1232.2 589.7L1232.6 594.7L1233.0 589.7L1233.4 595.4L1233.8 591.5L1234.2 595.0L1234.6 591.5L1235.0 596.2L1235.4 590.5L1235.8 595.3L1236.2 592.0L1236.6 596.1L1237.0 591.0L1237.4 595.5L1237.8 590.0L1238.2 596.2L1238.6 589.6L1239.0 595.9L1239.4 591.4L1239.8 594.8L1240.2 590.5L1240.6 596.5L1241.0 591.6L1241.4 595.9L1241.8 591.2L1242.2 595.9L1242.6 591.7L1243.0 595.9L1243.4 592.0L1243.8 595.8L1244.2 591.6L1244.6 596.6L1245.0 591.3L1245.4 596.9L1245.8 590.7L1246.2 596.0L1246.6 590.4L1247.0 595.6L1247.4 590.3L1247.8 595.9L1248.2 590.4L1248.6 595.0L1249.0 589.9L1249.4 594.5L1249.8 590.4L1250.2 594.9L1250.6 591.5L1251.0 596.4L1251.4 590.6L1251.8 597.5L1252.2 592.3L1252.6 596.1L1253.0 591.9L1253.4 596.7L1253.8 592.1L1254.2 597.2L1254.6 591.4L1255.0 596.9L1255.4 591.7L1255.8 597.1L1256.2 591.8L1256.6 598.0L1257.0 591.6L1257.4 598.3L1257.8 591.9L1258.2 596.8L1258.6 592.6L1259.0 597.9L1259.4 592.7L1259.8 597.3L1260.2 592.8L1260.6 596.2L1261.0 591.8L1261.4 595.6L1261.8 591.4L1262.2 595.5L1262.6 590.3L1263.0 595.4L1263.4 590.8L1263.8 595.9L1264.2 590.0L1264.6 594.0L1265.0 590.3L1265.4 594.7L1265.8 590.1L1266.2 593.9L1266.6 589.2L1267.0 594.5L1267.4 590.2L1267.8 595.0L1268.2 590.1L1268.6 594.7L1269.0 591.5L1269.4 596.0L1269.8 591.1L1270.2 596.3L1270.6 592.8L1271.0 597.1L1271.4 592.6L1271.8 598.6L1272.2 593.9L1272.6 598.7L1273.0 592.6L1273.4 597.2L1273.8 591.9L1274.2 597.0L1274.6 591.7L1275.0 596.2L1275.4 592.0L1275.8 596.7L1276.2 590.9L1276.6 597.1L1277.0 591.3L1277.4 595.5L1277.8 591.5L1278.2 596.1L1278.6 590.5L1279.0 596.7L1279.4 591.7L1279.8 596.2L1280.2 591.0L1280.6 595.7L1281.0 590.9L1281.4 596.7L1281.8 591.5L1282.2 596.6L1282.6 591.4L1283.0 595.3L1283.4 590.9L1283.8 594.6L1284.2 591.0L1284.6 594.8L1285.0 589.1L1285.4 593.9L1285.8 589.5L1286.2 595.3L1286.6 588.9L1287.0 595.4L1287.4 589.6L1287.8 595.3L1288.2 590.3L1288.6 595.8L1289.0 591.0L1289.4 595.7L1289.8 591.6L1290.2 595.3L1290.6 591.5L1291.0 596.7L1291.4 591.2L1291.8 595.6L1292.2 590.8L1292.6 595.6L1293.0 590.9L1293.4 597.1L1293.8 592.0L1294.2 597.0L1294.6 591.8L1295.0 596.4L1295.4 593.3L1295.8 597.2L1296.2 592.5L1296.6 596.6L1297.0 591.5L1297.4 595.4L1297.8 590.2L1298.2 596.3L1298.6 591.7L1299.0 596.4L1299.4 591.1L1299.8 596.6L1300.2 591.1L1300.6 597.6L1301.0 592.7L1301.4 598.0L1301.8 592.3L1302.2 596.6L1302.6 592.3L1303.0 596.6L1303.4 591.0L1303.8 596.5L1304.2 592.1L1304.6 596.4L1305.0 590.8L1305.4 596.2L1305.8 591.4L1306.2 596.1L1306.6 589.7L1307.0 594.3L1307.4 590.3L1307.8 594.4L1308.2 590.1L1308.6 594.3L1309.0 589.3L1309.4 594.3L1309.8 589.6L1310.2 595.1L1310.6 590.2L1311.0 594.3L1311.4 589.2L1311.8 594.0L1312.2 590.4L1312.6 594.5L1313.0 589.7L1313.4 594.4L1313.8 590.3L1314.2 594.4L1314.6 588.6L1315.0 593.9L1315.4 588.1L1315.8 592.1L1316.2 587.8L1316.6 591.0L1317.0 584.8L1317.4 588.8L1317.8 581.9L1318.2 585.8L1318.6 579.3L1319.0 583.6L1319.4 575.8L1319.8 580.5L1320.2 573.4L1320.6 576.8L1321.0 569.4L1321.4 572.8L1321.8 565.1L1322.2 569.7L1322.6 563.4L1323.0 567.0L1323.4 562.3L1323.8 567.0L1324.2 563.3L1324.6 568.7L1325.0 564.4L1325.4 572.0L1325.8 568.3L1326.2 575.0L1326.6 573.2L1327.0 580.7L1327.4 577.9L1327.8 585.0L1328.2 581.3L1328.6 587.6L1329.0 584.5L1329.4 590.7L1329.8 587.2L1330.2 592.9L1330.6 588.7L1331.0 594.3L1331.4 591.1L1331.8 595.9L1332.2 592.3L1332.6 596.8L1333.0 592.4L1333.4 598.2L1333.8 593.8L1334.2 598.1L1334.6 593.1L1335.0 598.4L1335.4 593.4L1335.8 599.4L1336.2 595.0L1336.6 598.9L1337.0 593.6L1337.4 599.0L1337.8 593.5L1338.2 599.5L1338.6 593.1L1339.0 598.2L1339.4 592.2L1339.8 597.3L1340.2 593.0L1340.6 596.1L1341.0 590.9L1341.4 596.4L1341.8 589.8L1342.2 594.0L1342.6 588.0L1343.0 593.1L1343.4 588.4L1343.8 592.4L1344.2 587.3L1344.6 590.8L1345.0 586.0L1345.4 591.6L1345.8 585.4L1346.2 590.7L1346.6 586.0L1347.0 592.7L1347.4 588.2L1347.8 593.3L1348.2 588.9L1348.6 594.5L1349.0 591.5L1349.4 597.1L1349.8 593.0L1350.2 598.1L1350.6 594.1L1351.0 600.4L1351.4 595.3L1351.8 600.8L1352.2 595.6L1352.6 601.6L1353.0 596.9L1353.4 602.0L1353.8 597.3L1354.2 603.3L1354.6 597.3L1355.0 602.9L1355.4 598.4L1355.8 603.0L1356.2 597.0L1356.6 602.2L1357.0 598.5L1357.4 601.8L1357.8 596.6L1358.2 601.4L1358.6 598.2L1359.0 601.6L1359.4 596.8L1359.8 602.4L1360.2 597.5L1360.6 603.5L1361.0 598.6L1361.4 604.2L1361.8 599.2L1362.2 604.5L1362.6 600.2L1363.0 604.2L1363.4 600.3L1363.8 605.2L1364.2 601.3L1364.6 606.6L1365.0 601.2L1365.4 605.1L1365.8 600.6L1366.2 605.7L1366.6 601.3L1367.0 605.0L1367.4 600.0L1367.8 604.6L1368.2 599.0L1368.6 605.4L1369.0 599.8L1369.4 605.5L1369.8 600.6L1370.2 604.1L1370.6 598.8L1371.0 604.5L1371.4 600.0L1371.8 604.4L1372.2 598.8L1372.6 604.2L1373.0 599.9L1373.4 603.0L1373.8 599.1L1374.2 602.9L1374.6 599.6L1375.0 604.0L1375.4 598.9L1375.8 603.0L1376.2 598.1L1376.6 603.6L1377.0 598.2L1377.4 604.1L1377.8 598.8L1378.2 604.0L1378.6 599.0L1379.0 603.9L1379.4 600.1L1379.8 605.5L1380.2 600.7L1380.6 605.1L1381.0 600.2L1381.4 605.5L1381.8 601.4L1382.2 607.1L1382.6 602.1L1383.0 606.1L1383.4 601.0L1383.8 606.2L1384.2 602.0L1384.6 607.2L1385.0 601.8L1385.4 607.2L1385.8 600.6L1386.2 606.6L1386.6 601.4L1387.0 605.2L1387.4 600.3L1387.8 606.3L1388.2 601.3L1388.6 605.2L1389.0 601.3L1389.4 605.2L1389.8 601.2L1390.2 606.1L1390.6 600.9L1391.0 605.3L1391.4 601.7L1391.8 605.3L1392.2 601.5L1392.6 605.3L1393.0 600.1L1393.4 605.5L1393.8 601.4L1394.2 605.9L1394.6 599.8L1395.0 606.1L1395.4 600.4L1395.8 605.3L1396.2 600.8L1396.6 605.2L1397.0 600.1L1397.4 606.2L1397.8 600.8L1398.2 606.3L1398.6 600.4L1399.0 605.9L1399.4 601.0L1399.8 604.9L1400.2 600.9L1400.6 606.0L1401.0 599.6L1401.4 605.8L1401.8 599.4L1402.2 605.5L1402.6 600.2L1403.0 605.6L1403.4 600.9L1403.8 605.6L1404.2 601.4L1404.6 606.5L1405.0 600.1L1405.4 605.2L1405.8 600.5L1406.2 606.6L1406.6 602.0L1407.0 606.2L1407.4 601.3L1407.8 606.3L1408.2 600.3L1408.6 606.4L1409.0 601.5L1409.4 605.9L1409.8 600.7L1410.2 604.8L1410.6 601.4L1411.0 605.4L1411.4 601.2L1411.8 605.0L1412.2 600.2L1412.6 606.3L1413.0 600.5L1413.4 605.6L1413.8 599.9L1414.2 605.6L1414.6 600.1L1415.0 604.5L1415.4 599.9L1415.8 605.1L1416.2 601.5L1416.6 606.0L1417.0 601.0L1417.4 606.7L1417.8 601.8L1418.2 607.3L1418.6 601.4L1419.0 607.2L1419.4 601.7L1419.8 605.9L1420.2 602.7L1420.6 606.9L1421.0 601.9L1421.4 606.6L1421.8 602.1L1422.2 606.2L1422.6 602.0L1423.0 606.6L1423.4 601.6L1423.8 607.0L1424.2 602.0L1424.6 608.8L1425.0 603.7L1425.4 609.2L1425.8 603.8L1426.2 609.0L1426.6 603.7L1427.0 609.9L1427.4 605.0L1427.8 610.2L1428.2 605.5L1428.6 608.7L1429.0 604.7L1429.4 609.2L1429.8 604.8L1430.2 609.4L1430.6 604.5L1431.0 610.0L1431.4 603.4L1431.8 608.7L1432.2 604.4L1432.6 609.2L1433.0 604.5L1433.4 608.7L1433.8 603.5L1434.2 608.0L1434.6 603.5L1435.0 609.3L1435.4 604.2L1435.8 608.4L1436.2 603.7L1436.6 608.3L1437.0 603.0L1437.4 608.6L1437.8 603.7L1438.2 608.7L1438.6 602.9L1439.0 607.3L1439.4 603.1L1439.8 607.8L1440.2 602.0L1440.6 607.3L1441.0 602.7L1441.4 608.3L1441.8 602.5L1442.2 607.7L1442.6 602.8L1443.0 606.5L1443.4 602.2L1443.8 607.0L1444.2 601.1L1444.6 605.5L1445.0 601.8L1445.4 605.8L1445.8 601.8L1446.2 606.1L1446.6 600.9L1447.0 606.2L1447.4 602.6L1447.8 607.0L1448.2 603.4L1448.6 608.8L1449.0 604.3L1449.4 609.3L1449.8 604.5L1450.2 609.8L1450.6 604.1L1451.0 608.9L1451.4 604.1L1451.8 610.3L1452.2 604.3L1452.6 609.4L1453.0 604.4L1453.4 608.3L1453.8 603.4L1454.2 609.3L1454.6 604.2L1455.0 607.9L1455.4 603.9L1455.8 608.8L1456.2 603.9L1456.6 609.4L1457.0 603.0L1457.4 609.1L1457.8 603.1L1458.2 608.6L1458.6 602.3L1459.0 607.1L1459.4 602.8L1459.8 607.2L1460.2 602.3L1460.6 607.3L1461.0 602.4L1461.4 607.6L1461.8 602.8L1462.2 608.4L1462.6 602.5L1463.0 609.1L1463.4 603.8L1463.8 609.1L1464.2 604.6L1464.6 608.3L1465.0 603.8L1465.4 610.0L1465.8 603.9L1466.2 609.4L1466.6 604.3L1467.0 610.0L1467.4 604.6L1467.8 609.7L1468.2 604.6L1468.6 610.3L1469.0 605.2L1469.4 611.8L1469.8 606.2L1470.2 612.6L1470.6 606.5L1471.0 613.4L1471.4 607.8L1471.8 612.5" fill="none" stroke="#FF8000" stroke-width="8.5" stroke-linejoin="round" stroke-linecap="butt"/>
<path d="M118.2 958.3L118.6 954.9L119.0 959.3L119.4 953.2L119.8 958.1L120.2 954.4L120.6 959.0L121.0 953.9L121.4 957.6L121.8 952.7L122.2 957.6L122.6 953.4L123.0 958.6L123.4 952.6L123.8 958.8L124.2 952.8L124.6 957.2L125.0 953.6L125.4 958.0L125.8 952.8L126.2 957.3L126.6 953.5L127.0 957.6L127.4 953.4L127.8 957.6L128.2 953.1L128.6 958.1L129.0 952.6L129.4 957.9L129.8 952.1L130.2 956.5L130.6 950.9L131.0 956.8L131.4 950.8L131.8 955.8L132.2 950.5L132.6 956.6L133.0 951.7L133.4 956.1L133.8 952.4L134.2 955.9L134.6 952.5L135.0 956.5L135.4 952.0L135.8 956.8L136.2 952.9L136.6 956.3L137.0 952.9L137.4 956.0L137.8 952.2L138.2 956.9L138.6 952.2L139.0 957.0L139.4 950.4L139.8 956.3L140.2 951.9L140.6 955.4L141.0 951.0L141.4 956.8L141.8 950.1L142.2 956.4L142.6 950.3L143.0 955.2L143.4 951.0L143.8 955.9L144.2 951.6L144.6 956.1L145.0 950.9L145.4 956.9L145.8 951.9L146.2 955.7L146.6 951.7L147.0 955.5L147.4 951.5L147.8 955.8L148.2 950.3L148.6 955.7L149.0 951.1L149.4 955.3L149.8 951.5L150.2 955.3L150.6 950.6L151.0 955.2L151.4 950.9L151.8 955.4L152.2 951.2L152.6 955.8L153.0 951.0L153.4 955.0L153.8 949.4L154.2 954.7L154.6 951.4L155.0 955.7L155.4 950.7L155.8 955.8L156.2 951.7L156.6 956.5L157.0 951.0L157.4 955.7L157.8 950.8L158.2 956.5L158.6 950.8L159.0 955.6L159.4 950.7L159.8 955.9L160.2 951.9L160.6 957.0L161.0 952.2L161.4 957.0L161.8 952.0L162.2 957.4L162.6 952.1L163.0 957.8L163.4 952.4L163.8 956.9L164.2 952.0L164.6 958.0L165.0 952.5L165.4 958.2L165.8 952.0L166.2 958.0L166.6 952.6L167.0 957.5L167.4 951.0L167.8 956.8L168.2 951.0L168.6 955.3L169.0 949.1L169.4 954.7L169.8 949.4L170.2 953.3L170.6 947.7L171.0 953.7L171.4 949.3L171.8 953.1L172.2 948.7L172.6 953.3L173.0 949.3L173.4 954.7L173.8 950.4L174.2 954.3L174.6 949.2L175.0 954.0L175.4 950.7L175.8 955.5L176.2 949.6L176.6 954.8L177.0 949.3L177.4 954.4L177.8 951.0L178.2 955.6L178.6 950.0L179.0 954.9L179.4 950.3L179.8 954.7L180.2 951.1L180.6 956.0L181.0 950.4L181.4 955.8L181.8 952.2L182.2 955.6L182.6 951.9L183.0 956.7L183.4 951.1L183.8 956.7L184.2 950.6L184.6 956.4L185.0 950.6L185.4 955.8L185.8 950.2L186.2 955.8L186.6 949.4L187.0 954.6L187.4 950.0L187.8 954.5L188.2 951.0L188.6 956.2L189.0 950.8L189.4 955.8L189.8 951.3L190.2 955.7L190.6 951.6L191.0 955.7L191.4 949.7L191.8 955.7L192.2 949.9L192.6 955.2L193.0 950.4L193.4 955.5L193.8 950.2L194.2 954.7L194.6 950.0L195.0 956.0L195.4 949.7L195.8 955.4L196.2 950.8L196.6 955.5L197.0 950.0L197.4 954.8L197.8 949.3L198.2 954.7L198.6 949.9L199.0 953.1L199.4 949.3L199.8 953.3L200.2 948.7L200.6 953.4L201.0 950.1L201.4 954.5L201.8 950.4L202.2 955.1L202.6 949.9L203.0 954.0L203.4 949.1L203.8 954.9L204.2 949.3L204.6 953.0L205.0 948.7L205.4 953.7L205.8 947.3L206.2 952.2L206.6 948.7L207.0 952.4L207.4 948.1L207.8 953.2L208.2 947.5L208.6 953.3L209.0 948.2L209.4 952.9L209.8 947.4L210.2 952.5L210.6 949.5L211.0 952.8L211.4 948.4L211.8 954.1L212.2 948.9L212.6 954.6L213.0 948.9L213.4 954.5L213.8 949.8L214.2 953.6L214.6 949.4L215.0 953.4L215.4 948.0L215.8 954.0L216.2 948.7L216.6 953.0L217.0 947.9L217.4 952.8L217.8 946.6L218.2 951.8L218.6 947.0L219.0 952.1L219.4 946.2L219.8 951.5L220.2 946.7L220.6 951.1L221.0 946.8L221.4 952.6L221.8 946.3L222.2 950.6L222.6 945.5L223.0 951.2L223.4 945.9L223.8 951.7L224.2 945.5L224.6 949.9L225.0 945.3L225.4 950.2L225.8 944.5L226.2 947.8L226.6 942.6L227.0 945.2L227.4 939.9L227.8 941.1L228.2 934.2L228.6 936.1L229.0 929.3L229.4 931.6L229.8 924.3L230.2 929.3L230.6 924.7L231.0 930.7L231.4 928.3L231.8 935.7L232.2 933.9L232.6 941.8L233.0 939.2L233.4 947.3L233.8 943.2L234.2 949.4L234.6 945.2L235.0 950.6L235.4 946.2L235.8 952.1L236.2 947.6L236.6 952.6L237.0 948.1L237.4 951.5L237.8 948.0L238.2 952.7L238.6 947.7L239.0 952.7L239.4 948.1L239.8 954.2L240.2 947.6L240.6 953.9L241.0 949.0L241.4 953.6L241.8 948.1L242.2 954.4L242.6 947.9L243.0 953.5L243.4 949.0L243.8 953.3L244.2 948.1L244.6 954.3L245.0 948.2L245.4 953.0L245.8 947.7L246.2 952.6L246.6 947.5L247.0 951.7L247.4 947.9L247.8 951.7L248.2 947.2L248.6 950.9L249.0 945.6L249.4 951.6L249.8 946.5L250.2 952.1L250.6 947.0L251.0 951.0L251.4 945.7L251.8 952.3L252.2 946.0L252.6 950.9L253.0 946.5L253.4 950.9L253.8 947.6L254.2 952.5L254.6 947.9L255.0 951.3L255.4 947.8L255.8 952.4L256.2 946.7L256.6 951.2L257.0 946.7L257.4 951.9L257.8 946.3L258.2 949.5L258.6 944.7L259.0 948.8L259.4 944.2L259.8 948.6L260.2 944.8L260.6 949.1L261.0 943.5L261.4 948.6L261.8 944.9L262.2 950.2L262.6 945.0L263.0 949.2L263.4 945.1L263.8 949.5L264.2 945.6L264.6 951.0L265.0 946.1L265.4 950.9L265.8 945.4L266.2 949.5L266.6 946.2L267.0 950.7L267.4 945.4L267.8 949.9L268.2 945.8L268.6 951.0L269.0 944.6L269.4 950.0L269.8 943.7L270.2 948.5L270.6 944.0L271.0 948.7L271.4 942.8L271.8 947.1L272.2 941.2L272.6 947.1L273.0 940.1L273.4 945.7L273.8 939.6L274.2 944.0L274.6 938.1L275.0 940.5L275.4 934.7L275.8 936.8L276.2 927.6L276.6 929.9L277.0 920.5L277.4 920.2L277.8 909.8L278.2 909.4L278.6 898.5L279.0 897.9L279.4 889.8L279.8 890.8L280.2 885.7L280.6 890.6L281.0 888.3L281.4 897.2L281.8 895.9L282.2 907.7L282.6 907.7L283.0 918.1L283.4 919.3L283.8 928.6L284.2 928.5L284.6 935.2L285.0 933.6L285.4 940.4L285.8 937.1L286.2 944.2L286.6 939.8L287.0 946.3L287.4 941.6L287.8 945.8L288.2 941.4L288.6 947.3L289.0 942.3L289.4 946.6L289.8 940.7L290.2 945.7L290.6 941.0L291.0 946.6L291.4 941.6L291.8 946.4L292.2 940.6L292.6 946.4L293.0 941.7L293.4 946.8L293.8 942.7L294.2 947.4L294.6 942.7L295.0 947.7L295.4 941.0L295.8 947.4L296.2 941.1L296.6 947.0L297.0 942.2L297.4 947.1L297.8 941.7L298.2 946.5L298.6 942.1L299.0 947.5L299.4 943.3L299.8 948.3L300.2 944.6L300.6 950.3L301.0 944.6L301.4 949.7L301.8 945.5L302.2 952.1L302.6 946.4L303.0 952.4L303.4 947.9L303.8 953.0L304.2 948.2L304.6 953.9L305.0 947.8L305.4 952.8L305.8 947.3L306.2 953.3L306.6 948.2L307.0 951.7L307.4 947.9L307.8 952.2L308.2 947.3L308.6 950.9L309.0 946.0L309.4 951.0L309.8 947.0L310.2 950.9L310.6 947.8L311.0 952.3L311.4 948.2L311.8 953.5L312.2 948.7L312.6 952.5L313.0 948.5L313.4 953.4L313.8 947.1L314.2 951.5L314.6 947.8L315.0 950.7L315.4 945.7L315.8 951.2L316.2 945.2L316.6 950.1L317.0 945.0L317.4 949.8L317.8 945.2L318.2 949.8L318.6 943.8L319.0 949.6L319.4 944.8L319.8 948.9L320.2 943.8L320.6 950.7L321.0 944.8L321.4 951.1L321.8 946.1L322.2 952.0L322.6 946.4L323.0 951.9L323.4 947.0L323.8 951.6L324.2 947.8L324.6 953.2L325.0 947.7L325.4 952.6L325.8 947.4L326.2 953.3L326.6 948.0L327.0 952.6L327.4 947.4L327.8 951.6L328.2 947.8L328.6 951.9L329.0 947.1L329.4 951.3L329.8 946.0L330.2 950.2L330.6 944.3L331.0 948.8L331.4 944.0L331.8 948.5L332.2 944.0L332.6 947.8L333.0 942.2L333.4 947.2L333.8 942.5L334.2 947.6L334.6 943.3L335.0 948.8L335.4 945.0L335.8 950.2L336.2 945.4L336.6 950.0L337.0 946.5L337.4 952.0L337.8 945.6L338.2 951.4L338.6 947.0L339.0 952.0L339.4 947.6L339.8 952.4L340.2 947.8L340.6 951.1L341.0 947.5L341.4 952.1L341.8 948.3L342.2 951.9L342.6 946.5L343.0 952.9L343.4 948.3L343.8 953.1L344.2 947.5L344.6 953.3L345.0 947.9L345.4 952.2L345.8 947.4L346.2 952.8L346.6 948.4L347.0 953.1L347.4 947.9L347.8 952.8L348.2 947.6L348.6 953.6L349.0 947.7L349.4 953.4L349.8 948.7L350.2 953.5L350.6 948.8L351.0 952.5L351.4 948.3L351.8 952.7L352.2 949.3L352.6 953.9L353.0 948.1L353.4 953.3L353.8 949.5L354.2 953.7L354.6 949.6L355.0 954.7L355.4 949.7L355.8 953.6L356.2 949.0L356.6 954.1L357.0 948.8L357.4 953.9L357.8 947.7L358.2 953.0L358.6 947.3L359.0 952.3L359.4 948.1L359.8 952.3L360.2 948.3L360.6 953.8L361.0 947.3L361.4 953.2L361.8 948.8L362.2 953.1L362.6 947.8L363.0 953.4L363.4 949.2L363.8 954.2L364.2 948.6L364.6 953.5L365.0 947.9L365.4 954.1L365.8 949.6L366.2 954.5L366.6 948.8L367.0 953.1L367.4 948.1L367.8 953.7L368.2 948.7L368.6 954.5L369.0 949.8L369.4 955.1L369.8 949.1L370.2 953.3L370.6 949.1L371.0 953.1L371.4 948.0L371.8 953.9L372.2 948.7L372.6 953.7L373.0 947.4L373.4 952.9L373.8 947.7L374.2 951.0L374.6 945.9L375.0 951.9L375.4 946.4L375.8 950.7L376.2 946.1L376.6 950.5L377.0 945.2L377.4 951.1L377.8 945.8L378.2 951.4L378.6 947.1L379.0 950.4L379.4 946.9L379.8 951.0L380.2 945.7L380.6 951.5L381.0 944.7L381.4 950.6L381.8 945.2L382.2 949.4L382.6 944.2L383.0 949.1L383.4 943.9L383.8 949.7L384.2 945.0L384.6 949.9L385.0 945.2L385.4 949.1L385.8 943.7L386.2 949.8L386.6 944.0L387.0 950.4L387.4 945.1L387.8 950.0L388.2 944.6L388.6 948.2L389.0 944.4L389.4 947.4L389.8 942.4L390.2 947.2L390.6 940.7L391.0 945.1L391.4 939.2L391.8 943.1L392.2 937.5L392.6 940.4L393.0 932.6L393.4 934.2L393.8 922.8L394.2 918.7L394.6 902.3L395.0 893.7L395.4 869.6L395.8 850.5L396.2 819.0L396.6 793.7L397.0 759.8L397.4 736.8L397.8 707.8L398.2 698.1L398.6 690.9L399.0 702.3L399.4 713.6L399.8 740.6L400.2 761.6L400.6 794.0L401.0 816.3L401.4 846.0L401.8 861.2L402.2 885.0L402.6 893.5L403.0 910.2L403.4 914.1L403.8 924.4L404.2 923.6L404.6 931.7L405.0 928.2L405.4 934.9L405.8 930.7L406.2 935.5L406.6 930.0L407.0 932.9L407.4 927.3L407.8 929.2L408.2 919.7L408.6 919.5L409.0 907.1L409.4 903.5L409.8 887.8L410.2 879.1L410.6 859.3L411.0 849.5L411.4 826.4L411.8 814.4L412.2 793.9L412.6 786.1L413.0 771.0L413.4 771.6L413.8 768.2L414.2 779.5L414.6 783.9L415.0 802.8L415.4 813.6L415.8 834.0L416.2 844.7L416.6 864.7L417.0 875.2L417.4 892.0L417.8 898.3L418.2 912.7L418.6 916.4L419.0 926.0L419.4 926.3L419.8 935.4L420.2 932.9L420.6 940.3L421.0 937.7L421.4 944.1L421.8 940.1L422.2 944.4L422.6 941.1L423.0 946.1L423.4 942.0L423.8 947.3L424.2 942.1L424.6 945.7L425.0 941.1L425.4 945.6L425.8 941.7L426.2 946.1L426.6 941.9L427.0 946.9L427.4 942.6L427.8 947.4L428.2 943.2L428.6 947.9L429.0 942.2L429.4 948.9L429.8 942.9L430.2 949.0L430.6 944.8L431.0 949.1L431.4 944.1L431.8 949.1L432.2 944.8L432.6 949.9L433.0 944.7L433.4 950.3L433.8 946.2L434.2 950.6L434.6 946.2L435.0 952.2L435.4 946.4L435.8 952.0L436.2 946.6L436.6 950.9L437.0 946.5L437.4 951.8L437.8 946.4L438.2 951.0L438.6 946.8L439.0 950.8L439.4 947.0L439.8 950.3L440.2 946.2L440.6 950.6L441.0 944.7L441.4 950.6L441.8 945.1L442.2 950.2L442.6 944.8L443.0 948.6L443.4 943.9L443.8 949.4L444.2 943.7L444.6 949.4L445.0 943.3L445.4 949.3L445.8 944.6L446.2 949.7L446.6 943.7L447.0 949.0L447.4 943.8L447.8 948.6L448.2 944.6L448.6 949.9L449.0 944.2L449.4 950.2L449.8 945.1L450.2 949.7L450.6 944.6L451.0 948.9L451.4 944.8L451.8 949.9L452.2 945.5L452.6 949.8L453.0 945.5L453.4 951.0L453.8 945.2L454.2 951.6L454.6 945.2L455.0 951.9L455.4 945.7L455.8 950.6L456.2 946.0L456.6 950.2L457.0 945.9L457.4 950.7L457.8 946.1L458.2 951.7L458.6 947.2L459.0 952.2L459.4 947.6L459.8 951.8L460.2 947.5L460.6 951.1L461.0 947.2L461.4 951.6L461.8 947.9L462.2 952.6L462.6 947.5L463.0 952.8L463.4 946.8L463.8 951.8L464.2 948.0L464.6 952.9L465.0 948.2L465.4 953.0L465.8 947.6L466.2 952.6L466.6 948.5L467.0 952.5L467.4 948.5L467.8 952.8L468.2 946.8L468.6 951.2L469.0 946.8L469.4 951.0L469.8 946.1L470.2 950.8L470.6 947.1L471.0 951.0L471.4 945.5L471.8 952.0L472.2 946.6L472.6 951.9L473.0 946.6L473.4 950.7L473.8 945.5L474.2 950.3L474.6 945.7L475.0 952.0L475.4 947.0L475.8 951.9L476.2 945.8L476.6 950.5L477.0 946.6L477.4 951.1L477.8 946.9L478.2 951.4L478.6 947.0L479.0 950.8L479.4 947.1L479.8 951.2L480.2 946.3L480.6 951.7L481.0 945.8L481.4 951.3L481.8 945.2L482.2 950.9L482.6 946.0L483.0 949.6L483.4 945.0L483.8 950.4L484.2 945.9L484.6 950.1L485.0 944.2L485.4 950.1L485.8 945.1L486.2 950.1L486.6 944.5L487.0 948.1L487.4 944.7L487.8 949.5L488.2 944.4L488.6 949.0L489.0 944.4L489.4 948.4L489.8 944.2L490.2 948.6L490.6 944.9L491.0 949.1L491.4 943.9L491.8 949.5L492.2 945.2L492.6 950.0L493.0 943.7L493.4 949.2L493.8 944.5L494.2 948.3L494.6 945.1L495.0 949.0L495.4 945.1L495.8 950.3L496.2 944.3L496.6 949.2L497.0 944.5L497.4 949.0L497.8 943.9L498.2 949.6L498.6 944.2L499.0 948.9L499.4 944.6L499.8 949.8L500.2 944.7L500.6 948.7L501.0 944.7L501.4 950.3L501.8 944.9L502.2 950.8L502.6 945.0L503.0 950.9L503.4 946.2L503.8 950.6L504.2 945.4L504.6 950.1L505.0 944.6L505.4 949.3L505.8 945.0L506.2 949.3L506.6 943.6L507.0 949.7L507.4 944.5L507.8 948.0L508.2 944.4L508.6 947.7L509.0 942.4L509.4 948.6L509.8 942.3L510.2 947.4L510.6 942.5L511.0 947.3L511.4 941.4L511.8 945.7L512.2 942.1L512.6 946.3L513.0 941.6L513.4 946.5L513.8 941.4L514.2 946.2L514.6 940.7L515.0 944.4L515.4 940.0L515.8 944.8L516.2 938.5L516.6 944.1L517.0 938.2L517.4 944.3L517.8 937.5L518.2 942.8L518.6 937.9L519.0 941.7L519.4 937.6L519.8 941.9L520.2 937.8L520.6 942.5L521.0 937.3L521.4 941.1L521.8 937.7L522.2 941.0L522.6 936.5L523.0 941.9L523.4 936.8L523.8 941.3L524.2 935.4L524.6 940.5L525.0 935.3L525.4 939.9L525.8 933.2L526.2 938.9L526.6 932.0L527.0 936.4L527.4 930.6L527.8 936.3L528.2 930.5L528.6 935.1L529.0 928.1L529.4 933.7L529.8 927.2L530.2 932.6L530.6 925.7L531.0 931.2L531.4 925.9L531.8 928.9L532.2 924.7L532.6 928.3L533.0 923.7L533.4 927.5L533.8 921.3L534.2 927.5L534.6 922.2L535.0 926.3L535.4 921.3L535.8 925.9L536.2 920.7L536.6 923.6L537.0 919.2L537.4 922.4L537.8 917.5L538.2 921.6L538.6 916.2L539.0 921.8L539.4 915.5L539.8 919.7L540.2 913.4L540.6 918.5L541.0 912.8L541.4 918.5L541.8 913.8L542.2 917.2L542.6 912.0L543.0 916.3L543.4 911.4L543.8 917.5L544.2 911.1L544.6 916.9L545.0 911.0L545.4 916.4L545.8 910.7L546.2 915.1L546.6 909.7L547.0 914.5L547.4 909.6L547.8 913.4L548.2 908.5L548.6 912.6L549.0 906.9L549.4 912.2L549.8 905.6L550.2 911.1L550.6 905.1L551.0 908.8L551.4 902.8L551.8 907.2L552.2 901.8L552.6 906.6L553.0 900.8L553.4 905.9L553.8 899.9L554.2 904.4L554.6 900.6L555.0 905.2L555.4 898.6L555.8 904.1L556.2 898.7L556.6 903.1L557.0 898.9L557.4 903.8L557.8 898.1L558.2 902.7L558.6 898.9L559.0 903.8L559.4 897.1L559.8 901.9L560.2 896.8L560.6 902.7L561.0 897.6L561.4 902.5L561.8 897.2L562.2 901.6L562.6 897.8L563.0 902.4L563.4 897.3L563.8 902.7L564.2 898.8L564.6 903.7L565.0 898.6L565.4 902.4L565.8 896.6L566.2 898.8L566.6 889.3L567.0 887.8L567.4 870.1L567.8 857.5L568.2 828.4L568.6 801.2L569.0 759.5L569.4 722.4L569.8 676.1L570.2 646.2L570.6 616.5L571.0 613.2L571.4 617.0L571.8 640.9L572.2 665.8L572.6 706.5L573.0 740.3L573.4 782.8L573.8 812.1L574.2 846.6L574.6 863.9L575.0 888.1L575.4 898.6L575.8 913.6L576.2 915.9L576.6 926.4L577.0 924.8L577.4 933.6L577.8 929.4L578.2 936.1L578.6 932.3L579.0 938.6L579.4 933.7L579.8 940.2L580.2 936.8L580.6 942.1L581.0 937.2L581.4 942.7L581.8 937.3L582.2 943.2L582.6 937.7L583.0 944.1L583.4 938.1L583.8 944.1L584.2 939.4L584.6 944.0L585.0 939.6L585.4 943.8L585.8 939.2L586.2 943.9L586.6 939.4L587.0 943.5L587.4 939.3L587.8 943.2L588.2 938.5L588.6 942.7L589.0 938.8L589.4 942.5L589.8 937.6L590.2 942.3L590.6 938.4L591.0 943.0L591.4 937.6L591.8 943.0L592.2 937.8L592.6 942.2L593.0 937.5L593.4 941.9L593.8 936.9L594.2 942.1L594.6 937.2L595.0 943.2L595.4 937.5L595.8 942.4L596.2 937.3L596.6 943.1L597.0 938.3L597.4 942.5L597.8 938.8L598.2 943.8L598.6 937.3L599.0 943.0L599.4 937.9L599.8 943.6L600.2 938.4L600.6 943.3L601.0 938.4L601.4 943.3L601.8 938.3L602.2 943.7L602.6 939.2L603.0 943.7L603.4 938.7L603.8 944.0L604.2 939.6L604.6 945.4L605.0 940.6L605.4 946.2L605.8 941.4L606.2 945.0L606.6 940.9L607.0 945.8L607.4 940.5L607.8 946.1L608.2 940.3L608.6 945.1L609.0 941.1L609.4 946.1L609.8 941.0L610.2 946.4L610.6 941.6L611.0 945.2L611.4 941.3L611.8 945.3L612.2 940.1L612.6 943.5L613.0 937.0L613.4 939.5L613.8 930.6L614.2 930.6L614.6 918.6L615.0 913.1L615.4 894.4L615.8 884.1L616.2 859.5L616.6 844.2L617.0 819.3L617.4 806.4L617.8 787.5L618.2 784.8L618.6 780.2L619.0 793.7L619.4 802.1L619.8 825.3L620.2 840.9L620.6 865.0L621.0 879.9L621.4 900.3L621.8 908.3L622.2 922.0L622.6 925.7L623.0 934.4L623.4 933.8L623.8 939.9L624.2 935.0L624.6 940.7L625.0 934.3L625.4 937.2L625.8 930.2L626.2 933.0L626.6 922.8L627.0 925.0L627.4 915.5L627.8 918.0L628.2 910.4L628.6 914.2L629.0 909.0L629.4 917.0L629.8 915.4L630.2 923.5L630.6 924.5L631.0 933.3L631.4 932.2L631.8 940.8L632.2 938.3L632.6 944.9L633.0 940.8L633.4 946.2L633.8 942.8L634.2 947.5L634.6 943.4L635.0 947.9L635.4 944.2L635.8 949.7L636.2 944.2L636.6 949.3L637.0 943.9L637.4 948.9L637.8 943.5L638.2 949.0L638.6 945.1L639.0 948.8L639.4 945.5L639.8 949.5L640.2 945.6L640.6 951.4L641.0 947.8L641.4 953.2L641.8 947.5L642.2 953.3L642.6 947.8L643.0 953.7L643.4 949.4L643.8 954.1L644.2 947.5L644.6 952.1L645.0 947.3L645.4 950.9L645.8 944.7L646.2 948.2L646.6 941.8L647.0 944.8L647.4 938.0L647.8 941.4L648.2 933.5L648.6 936.4L649.0 931.2L649.4 935.1L649.8 932.2L650.2 937.1L650.6 935.3L651.0 942.6L651.4 939.0L651.8 945.7L652.2 943.1L652.6 948.7L653.0 946.4L653.4 951.9L653.8 947.0L654.2 953.0L654.6 947.2L655.0 954.2L655.4 947.8L655.8 953.3L656.2 948.0L656.6 952.9L657.0 947.7L657.4 952.8L657.8 947.3L658.2 952.2L658.6 947.5L659.0 952.9L659.4 947.3L659.8 952.8L660.2 947.1L660.6 952.9L661.0 947.2L661.4 953.0L661.8 947.6L662.2 952.0L662.6 945.3L663.0 949.3L663.4 941.7L663.8 943.8L664.2 935.1L664.6 935.8L665.0 923.5L665.4 921.5L665.8 908.2L666.2 903.6L666.6 890.0L667.0 888.5L667.4 880.5L667.8 884.5L668.2 881.3L668.6 892.2L669.0 896.0L669.4 909.6L669.8 912.4L670.2 926.7L670.6 927.7L671.0 938.7L671.4 938.5L671.8 947.0L672.2 944.7L672.6 950.9L673.0 946.8L673.4 953.7L673.8 948.4L674.2 953.3L674.6 948.6L675.0 954.2L675.4 949.3L675.8 954.3L676.2 948.8L676.6 954.5L677.0 949.6L677.4 954.0L677.8 948.8L678.2 954.0L678.6 947.9L679.0 953.4L679.4 947.1L679.8 951.9L680.2 948.1L680.6 952.7L681.0 948.1L681.4 953.1L681.8 947.1L682.2 952.4L682.6 947.5L683.0 952.3L683.4 948.1L683.8 954.3L684.2 949.7L684.6 954.7L685.0 949.5L685.4 954.0L685.8 948.5L686.2 954.8L686.6 949.6L687.0 955.1L687.4 950.2L687.8 954.5L688.2 949.2L688.6 954.8L689.0 950.1L689.4 953.8L689.8 949.3L690.2 953.5L690.6 949.3L691.0 955.3L691.4 949.2L691.8 954.4L692.2 950.4L692.6 956.5L693.0 951.6L693.4 956.2L693.8 951.4L694.2 956.6L694.6 950.4L695.0 955.8L695.4 950.3L695.8 953.6L696.2 947.3L696.6 949.7L697.0 943.8L697.4 946.8L697.8 939.0L698.2 942.1L698.6 935.3L699.0 938.3L699.4 932.4L699.8 937.8L700.2 932.0L700.6 938.8L701.0 935.8L701.4 942.6L701.8 940.2L702.2 947.0L702.6 944.1L703.0 951.7L703.4 949.5L703.8 954.6L704.2 950.3L704.6 956.6L705.0 952.8L705.4 958.9L705.8 952.9L706.2 958.3L706.6 954.5L707.0 958.7L707.4 954.3L707.8 959.9L708.2 954.3L708.6 960.2L709.0 953.7L709.4 960.3L709.8 954.8L710.2 959.3L710.6 954.4L711.0 959.5L711.4 953.3L711.8 959.0L712.2 953.3L712.6 957.6L713.0 951.4L713.4 955.1L713.8 948.1L714.2 948.8L714.6 936.5L715.0 931.2L715.4 912.7L715.8 895.8L716.2 863.3L716.6 834.1L717.0 787.1L717.4 750.1L717.8 704.6L718.2 675.9L718.6 648.2L719.0 649.1L719.4 658.1L719.8 692.2L720.2 725.3L720.6 774.0L721.0 812.1L721.4 853.9L721.8 881.3L722.2 910.8L722.6 924.2L723.0 940.3L723.4 944.6L723.8 953.3L724.2 952.6L724.6 959.0L725.0 956.1L725.4 961.3L725.8 957.0L726.2 962.1L726.6 957.5L727.0 963.2L727.4 958.5L727.8 962.3L728.2 957.5L728.6 961.8L729.0 956.3L729.4 960.3L729.8 956.6L730.2 961.0L730.6 956.2L731.0 960.8L731.4 955.3L731.8 959.0L732.2 954.4L732.6 959.4L733.0 954.0L733.4 960.8L733.8 954.5L734.2 961.0L734.6 956.4L735.0 959.8L735.4 956.0L735.8 960.7L736.2 956.1L736.6 961.1L737.0 955.3L737.4 961.2L737.8 954.8L738.2 960.7L738.6 954.5L739.0 959.2L739.4 955.8L739.8 959.7L740.2 954.0L740.6 959.4L741.0 955.4L741.4 958.8L741.8 955.0L742.2 960.0L742.6 954.6L743.0 959.7L743.4 953.2L743.8 959.4L744.2 953.2L744.6 958.4L745.0 954.6L745.4 958.6L745.8 955.1L746.2 960.1L746.6 955.0L747.0 959.8L747.4 955.1L747.8 959.7L748.2 954.8L748.6 960.1L749.0 955.2L749.4 959.1L749.8 955.1L750.2 958.9L750.6 953.5L751.0 959.7L751.4 954.5L751.8 958.9L752.2 952.6L752.6 956.9L753.0 953.1L753.4 957.7L753.8 952.2L754.2 956.8L754.6 950.5L755.0 955.6L755.4 948.8L755.8 951.8L756.2 945.8L756.6 948.8L757.0 942.3L757.4 944.0L757.8 934.2L758.2 936.5L758.6 925.6L759.0 925.5L759.4 914.9L759.8 913.6L760.2 900.4L760.6 899.0L761.0 886.4L761.4 885.6L761.8 874.4L762.2 873.4L762.6 864.8L763.0 868.1L763.4 864.5L763.8 871.0L764.2 870.6L764.6 879.4L765.0 880.2L765.4 893.0L765.8 894.9L766.2 906.3L766.6 909.6L767.0 920.5L767.4 922.8L767.8 933.0L768.2 933.6L768.6 942.6L769.0 941.4L769.4 950.1L769.8 947.3L770.2 954.9L770.6 952.8L771.0 958.2L771.4 954.0L771.8 960.2L772.2 955.6L772.6 962.0L773.0 957.6L773.4 961.8L773.8 958.4L774.2 962.7L774.6 957.7L775.0 962.8L775.4 957.6L775.8 962.7L776.2 958.3L776.6 963.4L777.0 958.3L777.4 963.6L777.8 958.8L778.2 964.4L778.6 960.1L779.0 963.6L779.4 959.9L779.8 963.8L780.2 957.9L780.6 964.2L781.0 958.8L781.4 962.8L781.8 958.4L782.2 961.5L782.6 956.9L783.0 962.0L783.4 956.2L783.8 962.6L784.2 957.5L784.6 962.0L785.0 956.2L785.4 962.2L785.8 956.6L786.2 961.6L786.6 956.5L787.0 961.3L787.4 956.4L787.8 962.1L788.2 956.6L788.6 961.0L789.0 956.1L789.4 961.3L789.8 955.9L790.2 959.8L790.6 954.1L791.0 958.7L791.4 952.8L791.8 957.8L792.2 952.9L792.6 956.1L793.0 951.4L793.4 954.9L793.8 949.6L794.2 953.3L794.6 947.3L795.0 952.9L795.4 946.1L795.8 951.4L796.2 944.6L796.6 950.5L797.0 944.9L797.4 949.6L797.8 944.1L798.2 947.7L798.6 942.3L799.0 946.9L799.4 941.5L799.8 947.9L800.2 942.9L800.6 946.9L801.0 940.7L801.4 946.3L801.8 941.0L802.2 946.0L802.6 940.6L803.0 945.7L803.4 940.3L803.8 946.5L804.2 941.6L804.6 945.4L805.0 942.2L805.4 945.7L805.8 942.6L806.2 948.1L806.6 943.2L807.0 948.5L807.4 944.2L807.8 950.2L808.2 945.5L808.6 950.2L809.0 946.3L809.4 951.0L809.8 948.0L810.2 952.5L810.6 948.9L811.0 953.0L811.4 948.9L811.8 954.9L812.2 951.8L812.6 956.7L813.0 952.3L813.4 958.2L813.8 953.9L814.2 958.7L814.6 954.9L815.0 960.6L815.4 955.9L815.8 961.9L816.2 958.4L816.6 962.8L817.0 959.4L817.4 963.8L817.8 959.6L818.2 964.6L818.6 959.1L819.0 964.4L819.4 959.3L819.8 964.7L820.2 960.2L820.6 966.0L821.0 959.7L821.4 966.1L821.8 960.4L822.2 965.1L822.6 960.3L823.0 966.0L823.4 961.6L823.8 965.0L824.2 960.0L824.6 966.3L825.0 960.4L825.4 965.4L825.8 960.3L826.2 966.0L826.6 962.3L827.0 966.6L827.4 962.5L827.8 966.6L828.2 962.1L828.6 968.5L829.0 963.6L829.4 968.1L829.8 962.3L830.2 967.5L830.6 962.5L831.0 966.6L831.4 961.8L831.8 965.7L832.2 959.9L832.6 964.1L833.0 959.9L833.4 963.9L833.8 958.0L834.2 961.6L834.6 955.3L835.0 959.5L835.4 953.3L835.8 957.9L836.2 953.1L836.6 955.9L837.0 950.2L837.4 954.6L837.8 948.7L838.2 953.5L838.6 947.1L839.0 951.3L839.4 945.8L839.8 951.5L840.2 944.6L840.6 948.5L841.0 942.7L841.4 948.6L841.8 943.1L842.2 947.9L842.6 942.5L843.0 945.7L843.4 942.1L843.8 946.1L844.2 941.1L844.6 945.0L845.0 940.8L845.4 946.5L845.8 941.7L846.2 946.3L846.6 942.0L847.0 946.7L847.4 942.4L847.8 947.0L848.2 943.9L848.6 948.6L849.0 944.2L849.4 949.9L849.8 945.8L850.2 951.6L850.6 947.2L851.0 951.2L851.4 947.1L851.8 952.3L852.2 949.1L852.6 954.3L853.0 949.6L853.4 956.5L853.8 952.0L854.2 957.6L854.6 954.0L855.0 959.5L855.4 954.1L855.8 960.7L856.2 956.0L856.6 960.9L857.0 956.0L857.4 960.9L857.8 956.7L858.2 963.2L858.6 957.9L859.0 963.3L859.4 959.0L859.8 965.1L860.2 961.1L860.6 965.0L861.0 960.3L861.4 965.9L861.8 961.7L862.2 966.0L862.6 961.1L863.0 965.8L863.4 962.3L863.8 967.0L864.2 961.2L864.6 967.4L865.0 961.4L865.4 966.9L865.8 962.7L866.2 967.1L866.6 962.6L867.0 966.7L867.4 961.4L867.8 966.3L868.2 961.7L868.6 966.2L869.0 960.2L869.4 965.7L869.8 960.7L870.2 965.8L870.6 960.7L871.0 966.2L871.4 962.6L871.8 966.8L872.2 962.3L872.6 966.5L873.0 962.4L873.4 966.0L873.8 961.5L874.2 966.8L874.6 961.4L875.0 966.6L875.4 961.6L875.8 966.1L876.2 961.1L876.6 966.5L877.0 960.8L877.4 964.4L877.8 960.4L878.2 963.6L878.6 957.9L879.0 961.9L879.4 954.8L879.8 958.3L880.2 951.0L880.6 951.3L881.0 942.1L881.4 940.2L881.8 928.9L882.2 926.3L882.6 912.7L883.0 907.1L883.4 892.9L883.8 888.4L884.2 874.8L884.6 873.0L885.0 865.8L885.4 870.4L885.8 869.8L886.2 880.6L886.6 883.7L887.0 898.7L887.4 902.0L887.8 918.0L888.2 921.5L888.6 934.9L889.0 936.8L889.4 946.9L889.8 946.1L890.2 954.8L890.6 952.6L891.0 958.7L891.4 955.7L891.8 960.4L892.2 956.3L892.6 961.1L893.0 956.6L893.4 961.9L893.8 957.3L894.2 961.2L894.6 955.5L895.0 958.1L895.4 951.8L895.8 955.1L896.2 945.9L896.6 948.7L897.0 938.8L897.4 939.0L897.8 928.6L898.2 928.0L898.6 919.1L899.0 920.5L899.4 913.8L899.8 918.0L900.2 913.6L900.6 920.4L901.0 918.6L901.4 927.7L901.8 927.9L902.2 937.1L902.6 936.5L903.0 947.1L903.4 944.4L903.8 953.4L904.2 949.5L904.6 956.8L905.0 952.3L905.4 959.1L905.8 954.3L906.2 959.3L906.6 954.6L907.0 958.9L907.4 954.4L907.8 959.3L908.2 954.0L908.6 960.2L909.0 954.1L909.4 959.1L909.8 955.9L910.2 959.6L910.6 955.4L911.0 960.6L911.4 955.2L911.8 960.6L912.2 955.5L912.6 961.8L913.0 956.0L913.4 961.7L913.8 955.9L914.2 961.0L914.6 955.9L915.0 962.1L915.4 956.1L915.8 961.3L916.2 956.4L916.6 960.5L917.0 955.2L917.4 959.8L917.8 956.0L918.2 960.9L918.6 954.6L919.0 960.0L919.4 955.5L919.8 961.0L920.2 955.5L920.6 961.9L921.0 957.0L921.4 963.5L921.8 959.3L922.2 964.2L922.6 958.8L923.0 965.6L923.4 959.7L923.8 965.1L924.2 960.6L924.6 965.8L925.0 960.8L925.4 967.2L925.8 962.1L926.2 967.0L926.6 962.1L927.0 967.8L927.4 962.0L927.8 966.2L928.2 962.0L928.6 966.1L929.0 962.7L929.4 966.9L929.8 962.0L930.2 966.1L930.6 962.2L931.0 966.5L931.4 962.3L931.8 966.7L932.2 962.7L932.6 965.9L933.0 962.3L933.4 967.1L933.8 961.0L934.2 967.3L934.6 962.7L935.0 967.6L935.4 961.6L935.8 967.9L936.2 962.1L936.6 967.1L937.0 962.8L937.4 967.7L937.8 963.8L938.2 967.9L938.6 963.3L939.0 968.5L939.4 962.3L939.8 967.9L940.2 963.0L940.6 967.3L941.0 961.2L941.4 966.4L941.8 961.8L942.2 966.2L942.6 961.1L943.0 965.9L943.4 961.5L943.8 966.4L944.2 960.6L944.6 965.9L945.0 960.9L945.4 965.9L945.8 961.6L946.2 966.8L946.6 962.3L947.0 967.1L947.4 963.4L947.8 966.9L948.2 961.6L948.6 967.2L949.0 961.4L949.4 967.0L949.8 961.0L950.2 966.3L950.6 960.4L951.0 966.0L951.4 961.4L951.8 965.3L952.2 961.7L952.6 965.2L953.0 960.8L953.4 966.0L953.8 960.8L954.2 966.0L954.6 960.9L955.0 966.2L955.4 962.3L955.8 966.5L956.2 962.2L956.6 966.5L957.0 961.0L957.4 965.6L957.8 961.8L958.2 965.3L958.6 960.5L959.0 965.2L959.4 960.9L959.8 966.5L960.2 961.2L960.6 965.1L961.0 961.4L961.4 966.7L961.8 961.7L962.2 966.6L962.6 961.7L963.0 965.2L963.4 960.2L963.8 965.7L964.2 960.5L964.6 965.2L965.0 960.1L965.4 964.6L965.8 958.2L966.2 963.5L966.6 956.8L967.0 961.1L967.4 954.1L967.8 958.2L968.2 951.5L968.6 952.6L969.0 943.4L969.4 942.2L969.8 928.2L970.2 924.3L970.6 906.5L971.0 897.6L971.4 877.8L971.8 863.6L972.2 842.6L972.6 828.6L973.0 808.7L973.4 799.8L973.8 785.7L974.2 787.1L974.6 782.2L975.0 794.2L975.4 798.8L975.8 818.8L976.2 829.7L976.6 851.7L977.0 864.9L977.4 884.4L977.8 894.5L978.2 912.2L978.6 918.0L979.0 932.1L979.4 934.9L979.8 944.6L980.2 942.4L980.6 951.3L981.0 947.3L981.4 954.5L981.8 949.8L982.2 955.2L982.6 951.7L983.0 957.4L983.4 952.0L983.8 958.9L984.2 953.0L984.6 959.2L985.0 954.6L985.4 959.7L985.8 954.1L986.2 959.7L986.6 955.9L987.0 959.9L987.4 955.0L987.8 960.9L988.2 954.6L988.6 960.8L989.0 955.0L989.4 961.1L989.8 955.0L990.2 960.6L990.6 954.6L991.0 961.0L991.4 956.2L991.8 959.4L992.2 954.2L992.6 960.3L993.0 955.7L993.4 960.6L993.8 955.6L994.2 959.8L994.6 955.0L995.0 959.3L995.4 955.2L995.8 958.9L996.2 955.0L996.6 959.1L997.0 954.7L997.4 959.6L997.8 954.6L998.2 960.8L998.6 954.3L999.0 960.3L999.4 954.2L999.8 958.7L1000.2 953.4L1000.6 959.0L1001.0 953.6L1001.4 958.7L1001.8 953.7L1002.2 957.8L1002.6 953.5L1003.0 958.4L1003.4 952.6L1003.8 956.7L1004.2 951.5L1004.6 957.3L1005.0 951.5L1005.4 957.3L1005.8 951.2L1006.2 956.2L1006.6 951.6L1007.0 955.0L1007.4 950.5L1007.8 954.7L1008.2 950.6L1008.6 955.9L1009.0 949.3L1009.4 955.4L1009.8 950.2L1010.2 955.2L1010.6 949.8L1011.0 954.6L1011.4 948.1L1011.8 954.2L1012.2 947.3L1012.6 953.0L1013.0 948.4L1013.4 953.7L1013.8 948.5L1014.2 952.9L1014.6 948.3L1015.0 952.8L1015.4 948.8L1015.8 953.1L1016.2 949.0L1016.6 954.7L1017.0 948.3L1017.4 955.0L1017.8 948.9L1018.2 954.9L1018.6 949.8L1019.0 955.6L1019.4 950.9L1019.8 954.8L1020.2 951.5L1020.6 955.8L1021.0 952.1L1021.4 956.7L1021.8 952.1L1022.2 956.9L1022.6 951.4L1023.0 956.8L1023.4 951.0L1023.8 956.7L1024.2 951.1L1024.6 955.9L1025.0 951.1L1025.4 955.4L1025.8 951.0L1026.2 955.8L1026.6 949.1L1027.0 953.9L1027.4 950.6L1027.8 954.4L1028.2 949.6L1028.6 954.7L1029.0 950.2L1029.4 955.2L1029.8 950.4L1030.2 955.2L1030.6 951.5L1031.0 955.9L1031.4 951.8L1031.8 956.7L1032.2 951.3L1032.6 955.9L1033.0 951.0L1033.4 956.9L1033.8 951.7L1034.2 955.7L1034.6 949.8L1035.0 956.0L1035.4 950.3L1035.8 954.4L1036.2 948.7L1036.6 953.0L1037.0 949.1L1037.4 952.8L1037.8 947.0L1038.2 951.4L1038.6 945.1L1039.0 950.4L1039.4 944.2L1039.8 948.0L1040.2 942.1L1040.6 946.9L1041.0 941.6L1041.4 947.7L1041.8 942.1L1042.2 948.5L1042.6 944.7L1043.0 950.1L1043.4 945.6L1043.8 950.8L1044.2 948.0L1044.6 952.5L1045.0 949.3L1045.4 953.5L1045.8 949.1L1046.2 955.9L1046.6 949.6L1047.0 955.9L1047.4 951.0L1047.8 955.4L1048.2 952.3L1048.6 957.2L1049.0 951.7L1049.4 957.1L1049.8 951.7L1050.2 957.8L1050.6 952.0L1051.0 956.5L1051.4 952.5L1051.8 958.3L1052.2 952.1L1052.6 958.5L1053.0 952.6L1053.4 957.5L1053.8 953.3L1054.2 957.2L1054.6 952.0L1055.0 957.7L1055.4 951.3L1055.8 956.0L1056.2 952.5L1056.6 956.5L1057.0 951.0L1057.4 955.4L1057.8 950.0L1058.2 954.7L1058.6 947.7L1059.0 951.6L1059.4 945.3L1059.8 947.2L1060.2 940.8L1060.6 943.9L1061.0 936.1L1061.4 938.7L1061.8 930.8L1062.2 935.2L1062.6 928.8L1063.0 933.4L1063.4 927.0L1063.8 932.5L1064.2 929.6L1064.6 936.0L1065.0 932.8L1065.4 940.3L1065.8 938.4L1066.2 945.7L1066.6 942.2L1067.0 950.0L1067.4 947.8L1067.8 955.2L1068.2 950.2L1068.6 956.8L1069.0 953.7L1069.4 959.4L1069.8 955.7L1070.2 960.7L1070.6 955.7L1071.0 960.8L1071.4 956.5L1071.8 961.7L1072.2 955.6L1072.6 960.3L1073.0 956.2L1073.4 960.1L1073.8 954.5L1074.2 960.8L1074.6 955.8L1075.0 960.5L1075.4 956.4L1075.8 961.3L1076.2 954.9L1076.6 960.2L1077.0 956.0L1077.4 960.1L1077.8 955.7L1078.2 959.8L1078.6 954.0L1079.0 956.8L1079.4 952.1L1079.8 955.4L1080.2 948.1L1080.6 950.6L1081.0 944.4L1081.4 947.5L1081.8 939.8L1082.2 942.9L1082.6 935.0L1083.0 938.1L1083.4 931.1L1083.8 935.2L1084.2 930.4L1084.6 934.7L1085.0 930.2L1085.4 936.2L1085.8 932.8L1086.2 939.5L1086.6 936.7L1087.0 944.4L1087.4 941.8L1087.8 949.0L1088.2 946.3L1088.6 953.2L1089.0 950.0L1089.4 955.2L1089.8 953.2L1090.2 958.6L1090.6 954.8L1091.0 960.3L1091.4 956.3L1091.8 961.3L1092.2 956.3L1092.6 963.1L1093.0 958.5L1093.4 963.7L1093.8 958.2L1094.2 963.7L1094.6 957.7L1095.0 962.9L1095.4 958.7L1095.8 964.1L1096.2 958.3L1096.6 963.9L1097.0 957.5L1097.4 963.9L1097.8 957.6L1098.2 961.9L1098.6 957.0L1099.0 962.1L1099.4 958.5L1099.8 962.7L1100.2 958.7L1100.6 962.6L1101.0 958.3L1101.4 964.5L1101.8 959.5L1102.2 963.9L1102.6 959.1L1103.0 964.1L1103.4 959.7L1103.8 965.5L1104.2 960.6L1104.6 964.9L1105.0 960.4L1105.4 965.4L1105.8 960.5L1106.2 965.5L1106.6 960.2L1107.0 965.9L1107.4 960.6L1107.8 965.4L1108.2 961.5L1108.6 965.5L1109.0 961.4L1109.4 967.0L1109.8 961.3L1110.2 967.0L1110.6 960.8L1111.0 965.5L1111.4 961.4L1111.8 966.2L1112.2 959.8L1112.6 964.8L1113.0 959.4L1113.4 963.6L1113.8 959.0L1114.2 961.8L1114.6 957.4L1115.0 961.0L1115.4 956.9L1115.8 961.6L1116.2 955.4L1116.6 961.2L1117.0 955.7L1117.4 961.6L1117.8 956.5L1118.2 961.3L1118.6 956.5L1119.0 962.3L1119.4 957.0L1119.8 961.3L1120.2 956.5L1120.6 962.6L1121.0 956.8L1121.4 962.8L1121.8 958.0L1122.2 962.7L1122.6 957.6L1123.0 963.5L1123.4 958.2L1123.8 962.6L1124.2 958.7L1124.6 963.4L1125.0 957.6L1125.4 963.8L1125.8 957.9L1126.2 962.9L1126.6 957.8L1127.0 962.6L1127.4 956.1L1127.8 959.1L1128.2 953.0L1128.6 956.2L1129.0 949.9L1129.4 952.4L1129.8 943.7L1130.2 944.9L1130.6 936.6L1131.0 936.5L1131.4 926.7L1131.8 926.1L1132.2 914.4L1132.6 912.3L1133.0 900.1L1133.4 898.5L1133.8 885.8L1134.2 883.8L1134.6 873.7L1135.0 873.1L1135.4 865.8L1135.8 868.8L1136.2 862.7L1136.6 868.6L1137.0 864.5L1137.4 870.4L1137.8 866.1L1138.2 872.3L1138.6 866.8L1139.0 871.1L1139.4 865.6L1139.8 868.9L1140.2 864.0L1140.6 868.4L1141.0 862.7L1141.4 869.7L1141.8 865.6L1142.2 874.0L1142.6 873.0L1143.0 880.9L1143.4 881.7L1143.8 890.9L1144.2 890.0L1144.6 899.7L1145.0 900.8L1145.4 911.4L1145.8 910.5L1146.2 920.2L1146.6 918.9L1147.0 928.6L1147.4 927.8L1147.8 935.7L1148.2 934.0L1148.6 941.1L1149.0 938.6L1149.4 944.8L1149.8 942.2L1150.2 949.0L1150.6 944.9L1151.0 950.9L1151.4 948.3L1151.8 953.6L1152.2 949.3L1152.6 954.7L1153.0 950.6L1153.4 955.2L1153.8 951.4L1154.2 956.3L1154.6 951.5L1155.0 956.6L1155.4 952.9L1155.8 957.9L1156.2 953.1L1156.6 958.5L1157.0 955.0L1157.4 959.4L1157.8 954.7L1158.2 960.6L1158.6 954.6L1159.0 958.8L1159.4 954.4L1159.8 958.6L1160.2 954.4L1160.6 957.8L1161.0 953.0L1161.4 956.6L1161.8 950.2L1162.2 953.5L1162.6 945.8L1163.0 949.0L1163.4 938.8L1163.8 938.2L1164.2 927.0L1164.6 924.6L1165.0 911.5L1165.4 906.8L1165.8 894.3L1166.2 890.4L1166.6 879.8L1167.0 880.6L1167.4 873.1L1167.8 878.2L1168.2 877.3L1168.6 886.0L1169.0 888.3L1169.4 897.9L1169.8 899.6L1170.2 910.1L1170.6 910.7L1171.0 922.2L1171.4 920.6L1171.8 930.6L1172.2 930.6L1172.6 941.1L1173.0 940.0L1173.4 950.0L1173.8 949.5L1174.2 958.6L1174.6 957.4L1175.0 964.8L1175.4 961.5L1175.8 969.3L1176.2 964.4L1176.6 970.1L1177.0 966.3L1177.4 971.8L1177.8 967.0L1178.2 971.9L1178.6 967.9L1179.0 972.4L1179.4 967.3L1179.8 972.8L1180.2 967.1L1180.6 971.7L1181.0 968.0L1181.4 972.9L1181.8 967.9L1182.2 972.8L1182.6 967.4L1183.0 972.1L1183.4 967.4L1183.8 972.0L1184.2 966.8L1184.6 970.6L1185.0 965.7L1185.4 969.9L1185.8 965.0L1186.2 969.9L1186.6 964.3L1187.0 970.6L1187.4 964.2L1187.8 970.2L1188.2 965.4L1188.6 969.4L1189.0 966.0L1189.4 969.3L1189.8 964.5L1190.2 969.1L1190.6 965.3L1191.0 969.4L1191.4 965.1L1191.8 968.9L1192.2 964.5L1192.6 968.6L1193.0 964.2L1193.4 967.5L1193.8 962.6L1194.2 968.7L1194.6 962.7L1195.0 967.7L1195.4 962.5L1195.8 968.9L1196.2 963.6L1196.6 968.1L1197.0 963.1L1197.4 967.8L1197.8 963.7L1198.2 969.5L1198.6 963.1L1199.0 969.5L1199.4 963.8L1199.8 967.6L1200.2 963.7L1200.6 967.8L1201.0 963.0L1201.4 968.3L1201.8 962.0L1202.2 967.3L1202.6 962.8L1203.0 966.6L1203.4 961.7L1203.8 967.1L1204.2 962.5L1204.6 966.9L1205.0 961.9L1205.4 967.4L1205.8 962.4L1206.2 966.9L1206.6 962.2L1207.0 966.3L1207.4 962.9L1207.8 966.8L1208.2 962.5L1208.6 967.4L1209.0 961.9L1209.4 967.9L1209.8 962.8L1210.2 967.6L1210.6 961.5L1211.0 966.2L1211.4 960.2L1211.8 964.2L1212.2 956.9L1212.6 959.2L1213.0 951.8L1213.4 953.1L1213.8 944.7L1214.2 943.7L1214.6 932.7L1215.0 929.7L1215.4 916.5L1215.8 912.6L1216.2 896.7L1216.6 891.8L1217.0 875.8L1217.4 870.6L1217.8 856.4L1218.2 854.5L1218.6 844.3L1219.0 846.6L1219.4 842.3L1219.8 850.2L1220.2 851.3L1220.6 863.8L1221.0 868.7L1221.4 883.8L1221.8 889.6L1222.2 903.8L1222.6 909.0L1223.0 924.0L1223.4 926.5L1223.8 939.7L1224.2 941.1L1224.6 949.5L1225.0 949.1L1225.4 958.4L1225.8 956.0L1226.2 963.2L1226.6 960.1L1227.0 966.0L1227.4 961.4L1227.8 967.2L1228.2 963.5L1228.6 968.5L1229.0 964.5L1229.4 969.8L1229.8 965.8L1230.2 969.4L1230.6 965.4L1231.0 969.9L1231.4 966.2L1231.8 969.8L1232.2 965.8L1232.6 970.5L1233.0 965.1L1233.4 969.6L1233.8 965.1L1234.2 969.3L1234.6 963.1L1235.0 969.3L1235.4 963.3L1235.8 968.6L1236.2 963.8L1236.6 969.4L1237.0 964.2L1237.4 968.5L1237.8 963.0L1238.2 967.9L1238.6 963.1L1239.0 966.8L1239.4 962.1L1239.8 966.5L1240.2 962.3L1240.6 965.9L1241.0 960.6L1241.4 965.4L1241.8 959.3L1242.2 965.4L1242.6 958.6L1243.0 964.2L1243.4 959.0L1243.8 962.5L1244.2 957.5L1244.6 961.0L1245.0 956.0L1245.4 960.8L1245.8 954.7L1246.2 958.5L1246.6 953.4L1247.0 959.4L1247.4 953.7L1247.8 958.0L1248.2 953.7L1248.6 959.5L1249.0 954.5L1249.4 960.8L1249.8 955.6L1250.2 960.9L1250.6 957.2L1251.0 963.2L1251.4 958.1L1251.8 963.6L1252.2 959.6L1252.6 964.9L1253.0 960.5L1253.4 965.7L1253.8 962.8L1254.2 968.5L1254.6 962.7L1255.0 968.0L1255.4 964.3L1255.8 969.0L1256.2 964.9L1256.6 968.8L1257.0 963.8L1257.4 969.1L1257.8 964.3L1258.2 970.2L1258.6 964.4L1259.0 969.5L1259.4 965.5L1259.8 970.2L1260.2 964.2L1260.6 970.0L1261.0 966.0L1261.4 970.6L1261.8 966.5L1262.2 970.8L1262.6 965.9L1263.0 970.9L1263.4 966.7L1263.8 971.8L1264.2 967.1L1264.6 970.6L1265.0 965.3L1265.4 971.5L1265.8 965.0L1266.2 970.5L1266.6 965.2L1267.0 969.2L1267.4 965.4L1267.8 969.0L1268.2 964.6L1268.6 969.4L1269.0 965.1L1269.4 968.5L1269.8 964.0L1270.2 968.2L1270.6 964.6L1271.0 967.8L1271.4 962.6L1271.8 968.1L1272.2 962.5L1272.6 966.8L1273.0 962.3L1273.4 966.2L1273.8 962.6L1274.2 967.3L1274.6 963.3L1275.0 967.9L1275.4 963.3L1275.8 967.6L1276.2 964.5L1276.6 969.1L1277.0 963.8L1277.4 968.9L1277.8 964.8L1278.2 969.6L1278.6 965.4L1279.0 970.9L1279.4 965.0L1279.8 969.7L1280.2 965.2L1280.6 970.9L1281.0 964.4L1281.4 969.8L1281.8 964.9L1282.2 969.7L1282.6 965.4L1283.0 970.5L1283.4 965.1L1283.8 968.9L1284.2 965.2L1284.6 970.2L1285.0 963.7L1285.4 969.8L1285.8 964.6L1286.2 969.8L1286.6 965.1L1287.0 970.5L1287.4 964.8L1287.8 970.4L1288.2 964.4L1288.6 969.9L1289.0 964.1L1289.4 969.7L1289.8 963.4L1290.2 969.1L1290.6 964.1L1291.0 968.2L1291.4 964.3L1291.8 969.4L1292.2 964.0L1292.6 968.3L1293.0 964.4L1293.4 970.6L1293.8 964.6L1294.2 971.5L1294.6 965.3L1295.0 970.6L1295.4 966.4L1295.8 971.8L1296.2 966.2L1296.6 971.1L1297.0 967.2L1297.4 971.8L1297.8 965.5L1298.2 971.5L1298.6 965.9L1299.0 970.0L1299.4 964.8L1299.8 970.5L1300.2 964.9L1300.6 969.1L1301.0 965.7L1301.4 970.2L1301.8 963.9L1302.2 969.2L1302.6 963.7L1303.0 968.6L1303.4 963.9L1303.8 968.6L1304.2 963.8L1304.6 968.1L1305.0 963.8L1305.4 968.4L1305.8 963.3L1306.2 967.7L1306.6 963.1L1307.0 967.7L1307.4 962.4L1307.8 967.7L1308.2 964.0L1308.6 967.9L1309.0 963.3L1309.4 968.4L1309.8 963.4L1310.2 968.0L1310.6 964.2L1311.0 969.3L1311.4 963.6L1311.8 970.3L1312.2 964.8L1312.6 969.7L1313.0 966.0L1313.4 970.6L1313.8 965.3L1314.2 970.4L1314.6 965.0L1315.0 970.1L1315.4 964.6L1315.8 969.3L1316.2 964.8L1316.6 969.7L1317.0 963.3L1317.4 968.5L1317.8 962.7L1318.2 966.5L1318.6 960.1L1319.0 962.9L1319.4 955.1L1319.8 956.8L1320.2 949.8L1320.6 950.7L1321.0 941.6L1321.4 942.2L1321.8 933.5L1322.2 933.8L1322.6 923.5L1323.0 924.3L1323.4 914.4L1323.8 918.2L1324.2 911.3L1324.6 916.0L1325.0 911.2L1325.4 918.6L1325.8 917.0L1326.2 924.8L1326.6 924.9L1327.0 935.5L1327.4 934.8L1327.8 945.1L1328.2 943.3L1328.6 951.7L1329.0 950.3L1329.4 958.4L1329.8 957.3L1330.2 963.9L1330.6 959.8L1331.0 966.3L1331.4 963.6L1331.8 968.3L1332.2 965.7L1332.6 970.3L1333.0 965.8L1333.4 971.2L1333.8 967.4L1334.2 971.5L1334.6 967.0L1335.0 972.7L1335.4 967.5L1335.8 972.5L1336.2 967.5L1336.6 973.1L1337.0 967.6L1337.4 973.9L1337.8 967.9L1338.2 972.9L1338.6 968.4L1339.0 973.8L1339.4 968.2L1339.8 973.4L1340.2 967.4L1340.6 972.6L1341.0 967.0L1341.4 971.1L1341.8 965.0L1342.2 968.5L1342.6 963.1L1343.0 966.4L1343.4 961.9L1343.8 965.9L1344.2 959.2L1344.6 962.8L1345.0 957.7L1345.4 960.3L1345.8 955.5L1346.2 959.0L1346.6 954.4L1347.0 957.5L1347.4 953.1L1347.8 958.8L1348.2 953.0L1348.6 960.1L1349.0 955.8L1349.4 960.6L1349.8 956.9L1350.2 964.0L1350.6 960.4L1351.0 965.8L1351.4 961.3L1351.8 968.5L1352.2 963.0L1352.6 969.4L1353.0 965.6L1353.4 970.4L1353.8 966.5L1354.2 970.3L1354.6 967.2L1355.0 971.2L1355.4 967.7L1355.8 971.8L1356.2 967.3L1356.6 973.2L1357.0 969.1L1357.4 974.0L1357.8 967.9L1358.2 974.4L1358.6 969.2L1359.0 974.1L1359.4 968.6L1359.8 974.0L1360.2 967.9L1360.6 972.8L1361.0 968.0L1361.4 974.2L1361.8 968.3L1362.2 973.3L1362.6 968.4L1363.0 972.6L1363.4 967.7L1363.8 973.0L1364.2 967.6L1364.6 972.8L1365.0 968.0L1365.4 971.1L1365.8 967.5L1366.2 970.8L1366.6 966.0L1367.0 970.7L1367.4 966.7L1367.8 971.7L1368.2 967.0L1368.6 972.3L1369.0 965.9L1369.4 971.4L1369.8 966.5L1370.2 972.1L1370.6 965.7L1371.0 971.9L1371.4 966.6L1371.8 970.6L1372.2 966.2L1372.6 971.8L1373.0 966.2L1373.4 971.3L1373.8 966.1L1374.2 972.0L1374.6 967.3L1375.0 971.6L1375.4 968.2L1375.8 972.8L1376.2 968.0L1376.6 973.4L1377.0 968.3L1377.4 972.7L1377.8 967.7L1378.2 973.1L1378.6 967.6L1379.0 973.6L1379.4 967.7L1379.8 972.6L1380.2 969.1L1380.6 972.1L1381.0 967.1L1381.4 972.4L1381.8 966.8L1382.2 971.8L1382.6 965.6L1383.0 971.5L1383.4 965.6L1383.8 969.4L1384.2 964.9L1384.6 968.9L1385.0 964.0L1385.4 968.6L1385.8 962.2L1386.2 967.9L1386.6 962.5L1387.0 965.9L1387.4 960.9L1387.8 966.2L1388.2 959.9L1388.6 965.8L1389.0 960.0L1389.4 963.5L1389.8 959.4L1390.2 963.5L1390.6 959.4L1391.0 963.9L1391.4 958.6L1391.8 963.8L1392.2 958.1L1392.6 964.0L1393.0 958.5L1393.4 964.9L1393.8 959.6L1394.2 965.1L1394.6 960.3L1395.0 965.4L1395.4 960.6L1395.8 966.6L1396.2 962.3L1396.6 967.7L1397.0 963.0L1397.4 967.7L1397.8 963.5L1398.2 969.2L1398.6 963.8L1399.0 970.5L1399.4 965.7L1399.8 969.6L1400.2 964.8L1400.6 969.7L1401.0 964.8L1401.4 970.7L1401.8 964.7L1402.2 970.4L1402.6 965.6L1403.0 971.2L1403.4 966.0L1403.8 972.4L1404.2 967.2L1404.6 971.6L1405.0 966.8L1405.4 971.9L1405.8 967.7L1406.2 973.7L1406.6 967.5L1407.0 973.6L1407.4 969.3L1407.8 974.4L1408.2 968.8L1408.6 973.5L1409.0 969.9L1409.4 973.6L1409.8 970.4L1410.2 974.8L1410.6 970.2L1411.0 974.7L1411.4 969.8L1411.8 974.6L1412.2 970.7L1412.6 976.0L1413.0 969.8L1413.4 975.6L1413.8 970.1L1414.2 974.3L1414.6 970.1L1415.0 975.1L1415.4 969.0L1415.8 974.6L1416.2 968.6L1416.6 974.2L1417.0 968.4L1417.4 974.7L1417.8 969.6L1418.2 973.2L1418.6 968.1L1419.0 973.6L1419.4 969.3L1419.8 974.2L1420.2 969.0L1420.6 973.9L1421.0 970.2L1421.4 975.2L1421.8 971.2L1422.2 975.4L1422.6 969.9L1423.0 974.6L1423.4 970.8L1423.8 975.2L1424.2 969.8L1424.6 975.0L1425.0 969.6L1425.4 973.3L1425.8 969.0L1426.2 974.1L1426.6 968.6L1427.0 973.1L1427.4 967.7L1427.8 973.3L1428.2 968.9L1428.6 973.0L1429.0 967.5L1429.4 972.4L1429.8 967.9L1430.2 973.0L1430.6 968.0L1431.0 972.8L1431.4 968.2L1431.8 974.1L1432.2 969.3L1432.6 974.3L1433.0 969.3L1433.4 972.7L1433.8 968.1L1434.2 973.8L1434.6 969.9L1435.0 974.4L1435.4 969.3L1435.8 975.3L1436.2 968.6L1436.6 975.2L1437.0 969.5L1437.4 975.1L1437.8 969.0L1438.2 973.8L1438.6 968.7L1439.0 973.5L1439.4 968.9L1439.8 972.7L1440.2 969.1L1440.6 973.3L1441.0 967.7L1441.4 973.8L1441.8 969.0L1442.2 973.4L1442.6 968.8L1443.0 972.8L1443.4 968.7L1443.8 973.7L1444.2 967.5L1444.6 972.4L1445.0 968.4L1445.4 973.2L1445.8 967.5L1446.2 971.9L1446.6 966.4L1447.0 970.7L1447.4 965.6L1447.8 970.8L1448.2 965.5L1448.6 971.7L1449.0 965.5L1449.4 971.3L1449.8 966.0L1450.2 970.6L1450.6 966.9L1451.0 972.3L1451.4 967.9L1451.8 973.1L1452.2 968.2L1452.6 973.8L1453.0 968.2L1453.4 973.8L1453.8 969.1L1454.2 973.6L1454.6 969.1L1455.0 975.2L1455.4 969.4L1455.8 975.1L1456.2 969.7L1456.6 974.4L1457.0 969.3L1457.4 974.0L1457.8 969.6L1458.2 973.9L1458.6 969.1L1459.0 974.4L1459.4 969.0L1459.8 973.3L1460.2 968.9L1460.6 973.7L1461.0 968.3L1461.4 973.3L1461.8 968.4L1462.2 972.0L1462.6 967.8L1463.0 972.1L1463.4 966.7L1463.8 971.8L1464.2 965.8L1464.6 970.3L1465.0 966.0L1465.4 971.8L1465.8 965.6L1466.2 970.7L1466.6 967.5L1467.0 971.7L1467.4 966.5L1467.8 971.3L1468.2 966.2L1468.6 972.4L1469.0 968.0L1469.4 972.4L1469.8 967.1L1470.2 971.3L1470.6 966.6L1471.0 972.2L1471.4 966.6L1471.8 971.2" fill="none" stroke="#808080" stroke-width="8.5" stroke-linejoin="round" stroke-linecap="butt"/></g>
<g fill="#000">
<polygon points="195.90,355.90 201.70,371.42 218.25,372.14 205.29,382.45 209.71,398.41 195.90,389.27 182.09,398.41 186.51,382.45 173.55,372.14 190.10,371.42" stroke="#000" stroke-width="2.0" stroke-linejoin="round"/><polygon points="544.00,288.90 549.80,304.42 566.35,305.14 553.39,315.45 557.81,331.41 544.00,322.27 530.19,331.41 534.61,315.45 521.65,305.14 538.20,304.42" stroke="#000" stroke-width="2.0" stroke-linejoin="round"/><polygon points="631.30,413.00 637.10,428.52 653.65,429.24 640.69,439.55 645.11,455.51 631.30,446.37 617.49,455.51 621.91,439.55 608.95,429.24 625.50,428.52" stroke="#000" stroke-width="2.0" stroke-linejoin="round"/><polygon points="666.80,366.00 672.60,381.52 689.15,382.24 676.19,392.55 680.61,408.51 666.80,399.37 652.99,408.51 657.41,392.55 644.45,382.24 661.00,381.52" stroke="#000" stroke-width="2.0" stroke-linejoin="round"/><polygon points="1000.00,459.00 1005.80,474.52 1022.35,475.24 1009.39,485.55 1013.81,501.51 1000.00,492.37 986.19,501.51 990.61,485.55 977.65,475.24 994.20,474.52" stroke="#000" stroke-width="2.0" stroke-linejoin="round"/><polygon points="1141.60,526.20 1147.40,541.72 1163.95,542.44 1150.99,552.75 1155.41,568.71 1141.60,559.57 1127.79,568.71 1132.21,552.75 1119.25,542.44 1135.80,541.72" stroke="#000" stroke-width="2.0" stroke-linejoin="round"/><polygon points="1324.40,499.80 1330.20,515.32 1346.75,516.04 1333.79,526.35 1338.21,542.31 1324.40,533.17 1310.59,542.31 1315.01,526.35 1302.05,516.04 1318.60,515.32" stroke="#000" stroke-width="2.0" stroke-linejoin="round"/><circle cx="313.9" cy="513.2" r="15.50"/><circle cx="418.7" cy="506.6" r="15.50"/><circle cx="765.1" cy="529.3" r="15.50"/><circle cx="903.8" cy="511.5" r="15.50"/><circle cx="1083.5" cy="537.4" r="15.50"/><circle cx="1219.5" cy="447.6" r="15.50"/><circle cx="1348.5" cy="560.6" r="15.50"/><circle cx="277.4" cy="851.2" r="15.50"/><circle cx="696.7" cy="902.0" r="15.50"/><circle cx="800.7" cy="908.4" r="15.50"/><circle cx="843.6" cy="900.5" r="15.50"/><circle cx="1057.5" cy="908.0" r="15.50"/><circle cx="1245.9" cy="934.4" r="15.50"/><circle cx="1347.7" cy="929.5" r="15.50"/><circle cx="619.8" cy="745.2" r="14.10" fill="#fff" stroke="#000" stroke-width="2.8"/><circle cx="667.7" cy="844.3" r="14.10" fill="#fff" stroke="#000" stroke-width="2.8"/><circle cx="650.3" cy="901.4" r="14.10" fill="#fff" stroke="#000" stroke-width="2.8"/><circle cx="884.7" cy="822.6" r="14.10" fill="#fff" stroke="#000" stroke-width="2.8"/><polygon points="226.6,870.3 248.3,892.0 226.6,913.7 204.9,892.0" stroke="#000" stroke-width="1.5" stroke-linejoin="round"/><polygon points="400.1,630.3 421.8,652.0 400.1,673.7 378.4,652.0" stroke="#000" stroke-width="1.5" stroke-linejoin="round"/><polygon points="570.6,548.7 592.3,570.4 570.6,592.1 548.9,570.4" stroke="#000" stroke-width="1.5" stroke-linejoin="round"/><polygon points="721.0,589.6 742.7,611.3 721.0,633.0 699.3,611.3" stroke="#000" stroke-width="1.5" stroke-linejoin="round"/><polygon points="973.9,723.8 995.6,745.5 973.9,767.2 952.2,745.5" stroke="#000" stroke-width="1.5" stroke-linejoin="round"/><polygon points="1137.3,796.9 1159.0,818.6 1137.3,840.3 1115.6,818.6" stroke="#000" stroke-width="1.5" stroke-linejoin="round"/><polygon points="1167.3,817.2 1189.0,838.9 1167.3,860.6 1145.6,838.9" stroke="#000" stroke-width="1.5" stroke-linejoin="round"/><polygon points="1323.5,853.3 1345.2,875.0 1323.5,896.7 1301.8,875.0" stroke="#000" stroke-width="1.5" stroke-linejoin="round"/>
</g>
<g font-size="72" fill="#000"><text x="118.50" y="1201" text-anchor="middle">10</text><text x="298.90" y="1201" text-anchor="middle">20</text><text x="479.30" y="1201" text-anchor="middle">30</text><text x="659.70" y="1201" text-anchor="middle">40</text><text x="840.10" y="1201" text-anchor="middle">50</text><text x="1020.50" y="1201" text-anchor="middle">60</text><text x="1200.90" y="1201" text-anchor="middle">70</text><text x="1381.30" y="1201" text-anchor="middle">80</text></g>
<text x="795" y="1319" font-size="72" text-anchor="middle" fill="#000">2θ (°)</text>
<text transform="translate(68.5,564) rotate(-90)" font-size="72" text-anchor="middle" fill="#000">Intensity (a.u.)</text>
<g font-size="63" fill="#000">
<text x="202.5" y="338.9" text-anchor="middle">(002)</text>
<text x="539.5" y="266.7" text-anchor="middle">(100)</text>
<text y="445"><tspan x="935.1">(</tspan><tspan x="954.2">1</tspan><tspan x="986.4">1</tspan><tspan x="1018.6">0</tspan><tspan x="1050.8">)</tspan></text>
</g>
<g fill="#000">
<polygon points="254.80,68.30 259.74,81.50 273.82,82.12 262.79,90.90 266.56,104.48 254.80,96.70 243.04,104.48 246.81,90.90 235.78,82.12 249.86,81.50" stroke="#000" stroke-width="2.0" stroke-linejoin="round"/>
<circle cx="562.5" cy="86.3" r="13.50"/>
<circle cx="933.5" cy="86.4" r="12.00" fill="#fff" stroke="#000" stroke-width="2.2"/>
<polygon points="1226.5,66.8 1245.5,85.8 1226.5,104.8 1207.5,85.8" stroke="#000" stroke-width="1.5" stroke-linejoin="round"/>
</g>
<g font-size="62.5" fill="#000">
<text x="275.4" y="103.8">—MoS<tspan font-size="41.5" dy="16">2</tspan></text>
<text x="581.4" y="103.8">—Al<tspan font-size="41.5" dy="16">2</tspan><tspan dy="-16">TiO</tspan><tspan font-size="41.5" dy="16">5</tspan></text>
<text x="952.4" y="103.8">—TiO<tspan font-size="41.5" dy="16">2</tspan></text>
<text x="1248.4" y="103.8">—Al<tspan font-size="41.5" dy="16">2</tspan><tspan dy="-16">O</tspan><tspan font-size="41.5" dy="16">3</tspan></text>
</g>
<g font-size="72" fill="#FF8000">
<text x="763.6" y="248">MAO/MoS<tspan font-size="48" dy="20">2</tspan><tspan dy="-20"> composite</tspan></text>
<text x="1456" y="352.5" text-anchor="end">coating</text>
</g>
<text x="1017.8" y="724" font-size="72" fill="#808080">MAO coating</text>
<line x1="1341.0" y1="353.0" x2="1414.8" y2="523.7" stroke="#000" stroke-width="6.5"/><polygon points="1429.7,558.2 1404.0,524.0 1422.4,516.0" fill="#000"/>
<line x1="1356.7" y1="749.0" x2="1430.2" y2="921.4" stroke="#000" stroke-width="6.5"/><polygon points="1445.0,956.0 1419.5,921.7 1437.9,913.8" fill="#000"/>
</svg>
</body></html>
